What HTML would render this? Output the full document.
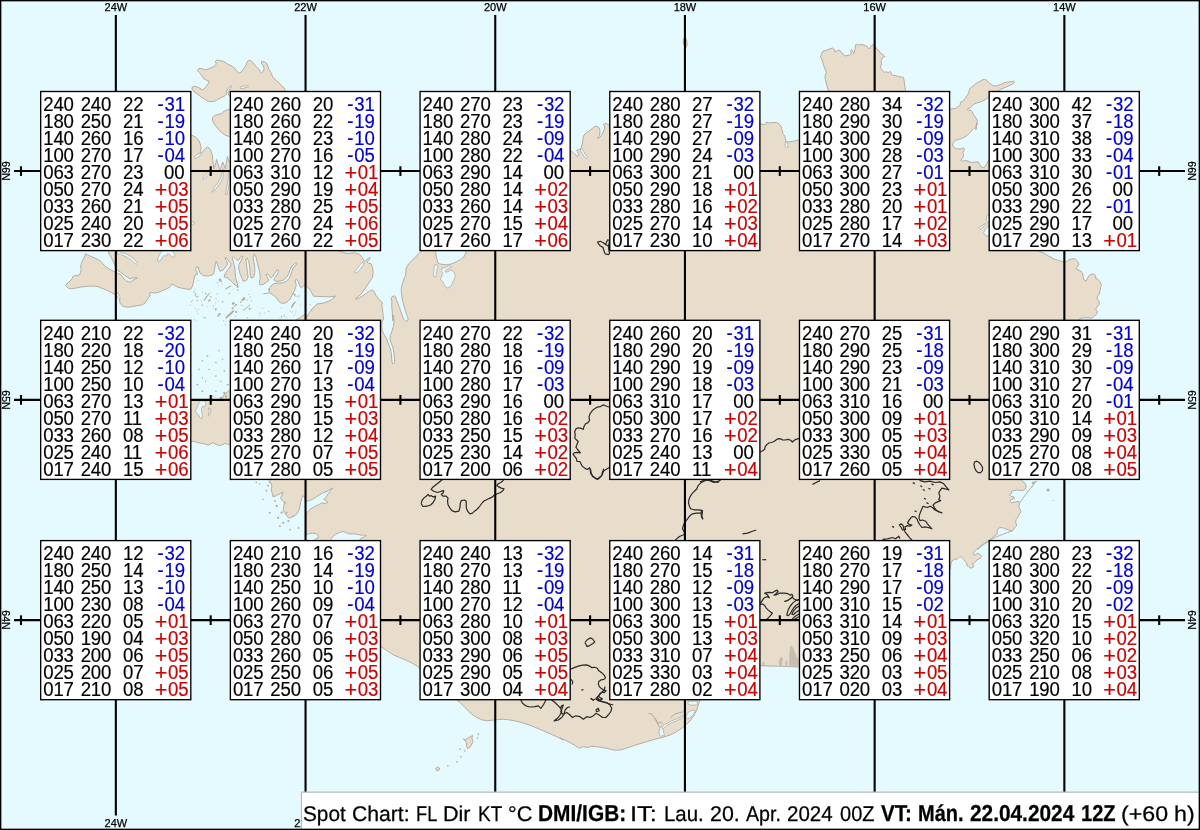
<!DOCTYPE html>
<html><head><meta charset="utf-8"><title>Spot Chart</title>
<style>
html,body{margin:0;padding:0}
body{width:1200px;height:830px;position:relative;overflow:hidden;background:#e5faff;font-family:"Liberation Sans",sans-serif;color:#000}
svg{position:absolute;left:0;top:0}
.b{position:absolute;width:151px;height:160px;font-size:19.3px;line-height:17px;white-space:pre;transform:scaleX(.965);transform-origin:0 0}
.b i{position:absolute;font-style:normal;height:17px;-webkit-text-stroke:0.18px;letter-spacing:-0.16px}
.n{color:#0000cc}.p{color:#c80404}.b i.q{font-size:22.4px;letter-spacing:0;margin-left:-0.6px}
.lb{position:absolute;-webkit-text-stroke:0.25px;font-size:11px;line-height:12px;width:40px;text-align:center;white-space:nowrap}
.rl{position:absolute;-webkit-text-stroke:0.25px;font-size:11px;line-height:12px;width:40px;height:12px;text-align:center;transform:rotate(90deg) scaleX(.96);transform-origin:50% 50%;white-space:nowrap}
#cap{position:absolute;left:302px;top:793px;width:898px;height:37px;background:#fff}
#cap span{position:absolute;top:9.6px;font-size:21.3px;line-height:24px;white-space:pre;transform-origin:0 80%;-webkit-text-stroke:0.25px;text-rendering:geometricPrecision}
#cap span.bd{font-weight:bold;font-size:23px;top:8.4px}
#mb{position:absolute;left:600px;top:400px;width:1px;height:1px;mix-blend-mode:multiply}
</style></head><body>
<svg width="1200" height="830" viewBox="0 0 1200 830">
<g fill="#e8dccb" stroke="#b4ada4" stroke-width="1" stroke-linejoin="round">
<polygon points="65.6,285.6 67.5,283.1 70.0,281.2 71.9,278.8 73.1,276.2 76.2,275.6 79.4,275.0 80.6,272.5 81.2,269.4 80.6,265.6 81.9,261.9 83.8,258.1 85.0,255.6 85.0,253.8 87.8,255.0 91.2,256.5 95.0,258.1 98.8,260.0 101.9,262.5 104.4,265.6 106.9,267.8 110.0,269.4 113.1,271.0 116.2,272.8 118.1,273.5 120.0,274.0 121.9,276.2 123.8,278.8 126.9,281.2 130.0,282.2 132.5,280.6 135.0,279.0 137.2,278.5 136.9,277.5 133.8,277.8 130.0,278.8 126.9,276.9 123.8,274.4 120.6,272.2 118.1,270.6 116.2,268.8 114.8,265.0 113.1,261.2 111.2,257.5 109.4,254.4 108.1,251.2 108.1,247.5 150.0,140.0 189.0,134.5 191.5,135.0 193.5,136.0 196.0,137.5 198.0,139.5 199.5,142.0 200.5,145.0 201.0,148.0 200.5,151.5 200.0,153.5 202.0,152.5 204.5,149.5 207.2,147.0 209.0,148.0 210.5,150.0 211.8,153.0 212.5,157.0 212.8,160.0 213.9,169.0 215.5,164.0 216.6,159.5 218.0,164.0 219.8,170.5 221.5,166.0 222.7,162.0 224.0,165.0 225.5,169.0 226.5,162.0 227.4,156.5 228.5,160.0 230.0,163.0 236.0,163.0 236.0,136.5 230.0,136.5 228.0,136.2 225.0,135.0 221.5,132.5 218.5,129.5 216.0,126.5 214.0,123.5 212.5,120.5 212.5,117.5 214.5,115.5 218.0,114.5 222.0,113.5 223.5,111.5 227.0,110.0 230.0,109.0 236.0,109.0 237.6,100.1 230.1,96.6 228.9,95.7 228.2,92.6 229.5,89.5 231.6,86.3 230.7,85.7 228.2,88.2 226.4,91.4 226.6,94.1 225.1,95.7 221.3,97.6 217.6,99.5 214.4,101.4 211.3,101.6 208.2,101.4 205.1,99.5 201.3,97.0 197.5,94.1 193.8,91.4 191.9,88.8 192.3,87.0 195.0,86.3 198.8,87.6 202.5,89.8 204.4,88.8 206.3,86.3 208.2,83.8 209.4,81.3 206.9,80.3 203.8,78.8 201.9,75.7 199.4,72.6 197.5,70.1 198.8,68.5 201.9,68.5 205.7,70.1 208.2,68.8 211.9,67.5 215.1,65.7 216.3,63.8 215.1,61.5 217.0,60.0 220.7,60.7 223.8,61.5 227.6,64.0 232.0,66.3 235.1,68.8 237.0,71.3 239.1,73.2 241.4,71.9 243.9,68.8 246.2,65.0 247.0,61.9 248.9,60.3 251.4,61.0 253.9,64.0 257.1,67.5 259.8,70.1 260.2,72.3 261.4,73.2 262.9,71.9 264.2,68.8 263.3,65.7 261.4,63.2 261.7,61.3 265.2,62.3 267.1,63.8 268.7,68.8 271.5,73.8 272.7,76.9 275.9,80.1 279.0,82.8 281.5,85.7 284.0,87.6 285.3,90.7 285.9,100.1 338.8,246.2 338.8,251.2 347.5,253.5 355.0,252.8 359.4,254.4 362.5,257.5 364.4,261.9 366.2,260.0 368.8,258.1 370.0,257.5 369.4,259.4 366.9,261.9 368.1,263.1 371.2,263.8 372.5,267.5 373.1,272.5 372.5,277.5 370.0,281.2 367.5,285.0 365.0,288.8 361.9,293.1 358.8,296.2 355.6,298.1 356.2,299.4 360.0,297.5 365.0,294.4 369.4,291.2 372.5,289.8 374.4,291.9 375.6,295.0 378.1,298.1 380.6,301.2 382.5,302.5 381.9,305.0 382.5,310.0 383.1,315.0 383.5,320.0 382.0,321.1 381.7,327.3 382.7,331.9 384.7,335.5 386.8,339.1 388.3,343.7 390.4,348.8 391.4,353.9 391.7,359.1 392.2,363.2 393.4,364.0 394.5,362.6 394.3,358.0 394.0,352.9 392.9,347.8 391.4,343.2 389.9,339.6 390.4,335.5 391.9,331.4 393.4,326.3 394.0,321.1 393.4,315.0 392.8,320.8 392.5,316.0 392.2,311.1 391.7,306.3 391.9,301.5 391.1,298.2 392.2,296.7 394.3,295.8 395.5,297.0 396.4,299.7 397.9,303.3 399.4,307.5 400.9,311.7 402.4,316.0 403.9,319.3 405.7,321.4 407.2,321.1 408.1,319.3 407.5,316.6 406.3,313.6 405.1,309.9 403.9,305.7 402.8,301.5 402.1,297.9 401.5,293.7 401.2,290.1 401.8,285.8 403.0,281.6 404.5,277.4 405.7,275.0 406.2,268.1 408.8,263.8 412.5,260.0 416.2,256.2 420.0,252.5 422.5,250.0 435.6,247.5 435.6,251.2 436.2,256.2 437.5,261.2 438.1,263.5 441.9,264.4 446.2,264.8 451.2,264.0 456.2,261.9 460.6,259.4 463.8,256.9 465.6,253.8 466.0,251.2 466.2,247.5 567.5,149.6 570.9,150.9 573.0,152.6 575.1,154.7 577.6,156.4 578.5,154.3 577.6,151.7 576.4,150.5 578.5,149.5 580.6,149.0 581.4,147.1 582.3,143.7 582.9,139.5 583.5,136.1 584.8,134.0 587.8,131.9 591.1,129.4 594.1,126.9 596.6,126.0 598.7,127.3 599.7,129.0 600.0,131.9 599.6,135.3 597.5,138.2 598.7,138.2 601.3,135.7 602.9,132.8 604.2,129.8 604.8,126.9 603.8,125.2 603.4,124.3 605.5,123.5 607.6,123.9 608.8,125.2 612.2,125.6 757.9,122.9 761.3,123.9 763.7,124.9 765.6,123.9 766.6,122.0 769.5,122.9 773.3,122.5 776.7,122.5 779.1,123.9 781.0,126.3 782.0,129.7 782.9,133.5 784.9,136.4 785.8,139.3 785.6,141.7 788.7,142.0 793.5,141.2 797.4,140.3 803.2,139.3 829.0,97.0 828.5,91.0 827.0,86.0 826.0,82.0 825.0,78.0 825.5,74.0 826.5,72.5 825.0,69.0 823.5,65.0 822.5,61.0 820.5,57.5 821.5,54.0 823.0,51.0 826.0,50.5 829.0,49.0 832.5,48.0 834.5,49.5 835.0,52.0 837.0,51.0 839.0,50.0 841.0,51.5 843.0,54.0 844.5,56.0 847.0,55.5 849.5,55.0 851.5,54.0 850.5,51.5 851.5,49.5 853.0,51.5 853.5,53.5 854.5,52.0 855.0,48.5 855.5,45.0 856.5,44.0 858.0,45.0 861.0,44.5 864.0,45.0 866.0,46.0 868.0,47.5 869.5,49.0 871.0,46.0 873.0,44.5 875.0,45.5 876.5,49.0 878.5,50.0 880.0,52.5 882.0,54.0 884.0,55.5 885.0,56.5 883.0,57.5 881.5,59.5 881.0,62.0 881.8,64.0 880.5,66.0 881.0,68.5 882.0,70.0 883.5,71.5 885.0,72.5 886.5,71.5 888.0,73.0 889.5,71.5 891.0,72.5 891.5,74.0 893.0,75.5 895.5,75.5 898.0,76.5 901.0,77.0 903.5,77.5 904.0,80.0 904.5,84.0 905.0,88.0 905.8,91.0 906.0,97.0 946.7,109.7 950.5,109.3 952.6,108.7 955.1,108.5 957.6,107.2 959.8,105.5 960.6,103.8 960.0,102.6 961.9,101.7 964.0,100.1 966.1,97.1 967.8,94.6 969.0,91.6 969.5,89.1 971.1,87.4 973.7,85.3 975.8,83.6 978.3,82.3 980.4,81.1 982.5,79.8 984.6,79.4 986.7,80.2 988.4,82.3 990.5,84.0 992.2,85.3 994.7,86.0 997.7,85.7 1000.6,84.5 1004.0,82.9 1007.4,82.1 1010.8,81.8 1013.3,81.2 1014.6,81.9 1013.7,83.2 1011.6,84.5 1009.1,85.7 1006.1,87.0 1003.2,88.2 1000.6,89.3 999.0,90.4 997.7,91.2 995.6,95.4 992.2,97.1 988.8,97.1 986.3,98.8 982.9,100.9 979.6,102.2 976.2,103.2 973.7,104.3 971.6,106.4 969.9,108.1 967.8,108.5 967.3,109.6 969.0,110.4 970.7,110.2 972.0,111.4 973.2,114.0 974.9,116.5 976.6,119.0 977.5,120.7 976.6,123.2 976.2,126.6 975.8,130.0 977.3,122.9 975.8,126.7 972.9,129.6 970.0,132.5 967.2,135.4 963.3,137.8 959.5,139.3 955.6,140.2 953.7,142.2 952.2,145.0 954.2,147.5 956.6,148.9 960.4,148.9 963.8,147.9 964.3,149.9 962.8,152.8 963.8,155.6 962.3,158.5 960.9,160.5 962.8,161.2 966.2,160.5 969.1,161.6 971.0,162.4 974.9,162.2 978.2,161.9 979.7,164.3 981.1,166.7 983.1,167.7 985.5,166.2 986.9,163.8 987.9,161.4 988.8,160.0 993.2,158.5 1038.8,246.2 1038.8,251.2 1043.8,253.1 1048.8,256.2 1053.8,258.8 1058.8,260.6 1063.1,261.9 1065.6,262.5 1067.5,260.6 1070.0,259.4 1073.1,258.5 1075.6,259.4 1077.5,261.2 1078.8,264.4 1077.5,266.9 1075.6,268.8 1078.1,270.0 1081.2,271.2 1082.8,273.8 1083.1,276.9 1084.0,280.0 1086.2,281.2 1087.5,278.1 1089.0,275.6 1091.2,274.4 1093.8,274.0 1095.6,275.6 1095.6,278.1 1098.1,279.4 1100.0,281.9 1101.5,284.4 1100.6,287.5 1100.0,290.6 1099.4,293.8 1097.5,296.2 1097.2,298.8 1099.0,301.2 1099.4,304.4 1096.9,306.9 1095.6,309.4 1097.5,311.2 1096.9,313.8 1094.4,316.2 1091.9,318.1 1087.5,317.8 1083.8,317.8 1080.6,318.1 1079.4,320.0 1078.8,325.0 1021.2,475.0 1021.2,480.0 1023.8,481.9 1025.6,484.4 1026.2,487.5 1024.4,490.0 1021.2,490.6 1017.5,490.0 1013.8,490.6 1011.2,491.2 1011.9,493.1 1009.4,494.4 1010.6,496.2 1013.8,496.9 1014.4,498.8 1011.2,499.4 1010.0,501.2 1011.9,502.8 1015.6,501.9 1018.8,501.2 1019.4,503.8 1018.8,506.2 1020.0,509.4 1021.2,511.9 1019.4,513.8 1018.1,516.9 1016.2,519.4 1015.6,522.5 1016.9,525.0 1015.0,527.5 1013.1,530.0 1011.9,531.2 1008.1,529.8 1003.8,528.1 1000.0,527.5 998.1,528.8 996.9,531.9 997.5,533.8 995.0,535.6 992.5,537.5 990.6,540.0 989.2,540.1 986.3,542.1 983.4,544.0 980.5,545.9 978.6,547.4 976.6,549.3 975.2,550.7 973.8,552.7 973.3,554.6 974.7,555.1 976.6,554.1 978.1,553.1 979.5,554.1 981.0,555.6 981.5,557.0 980.0,558.4 978.1,559.4 976.2,560.4 975.7,561.8 973.8,563.3 972.3,563.8 973.8,565.7 973.3,567.1 971.3,568.1 969.4,567.6 968.0,566.2 966.5,565.2 967.0,563.8 965.6,561.8 963.6,559.4 961.7,557.5 959.8,556.5 958.3,558.0 956.9,559.4 954.9,558.9 953.5,559.9 952.1,560.9 951.1,563.3 950.6,566.6 950.1,569.5 945.8,570.5 805.0,667.2 799.0,667.0 790.0,666.6 780.0,666.2 770.0,666.0 761.0,665.8 755.0,665.5 700.8,695.0 700.0,700.0 698.3,705.0 696.7,710.0 694.2,715.0 690.8,720.0 686.7,724.2 681.7,728.3 676.7,731.7 670.8,734.7 665.0,736.7 660.0,738.0 653.3,739.7 646.7,741.7 640.0,743.7 633.3,745.8 626.7,748.0 621.7,749.7 616.7,750.3 611.7,749.7 606.7,748.3 601.7,747.5 596.7,746.7 591.7,746.3 587.5,747.5 583.3,746.7 579.2,748.3 575.8,745.8 570.0,742.5 565.0,740.0 560.0,738.0 563.3,740.0 556.7,736.7 550.0,733.7 543.3,730.8 536.7,728.0 530.0,725.3 523.3,723.0 516.7,721.3 510.0,720.0 503.3,719.2 496.7,719.7 491.7,720.3 486.7,720.8 481.7,719.7 476.7,717.5 471.7,714.2 467.5,710.0 463.3,705.8 460.0,702.5 456.7,700.0 455.0,695.0 425.0,671.0 420.0,669.0 417.0,666.0 411.9,663.0 405.7,660.0 399.6,657.5 393.4,654.9 387.3,650.8 381.0,646.7 375.0,643.0 359.4,545.0 358.8,540.6 359.4,540.0 361.2,538.1 364.4,536.9 366.5,535.6 364.4,535.0 361.2,535.2 357.5,534.4 353.8,533.8 349.4,534.0 346.2,532.5 343.1,531.5 339.4,532.5 335.6,534.4 332.5,536.9 330.6,540.0 330.6,545.0 313.8,545.0 313.8,540.6 315.6,538.8 318.1,538.1 318.5,535.6 316.2,533.8 312.5,533.1 308.8,533.8 306.2,535.0 305.8,532.5 305.8,526.2 306.0,520.0 306.2,514.4 307.5,511.9 310.0,509.4 313.1,507.5 316.2,505.6 319.4,504.4 321.9,502.8 325.0,503.5 327.5,502.5 326.9,500.6 323.8,499.4 326.2,496.9 328.1,493.8 330.6,490.6 332.5,488.1 330.0,489.4 327.5,491.2 323.8,492.5 320.0,494.4 316.2,496.9 312.5,499.4 308.8,500.6 305.6,501.2 304.4,496.9 303.1,495.6 301.9,498.1 300.6,501.9 300.0,506.2 298.8,510.6 296.9,513.8 293.8,516.2 290.0,518.1 288.1,517.5 286.2,515.0 284.4,512.5 283.1,509.4 283.8,506.2 284.4,503.1 282.5,500.6 280.6,498.1 281.9,495.0 283.1,491.9 280.0,493.8 276.2,495.6 273.8,496.9 272.5,493.8 271.2,490.0 271.9,486.2 270.6,482.5 268.8,480.0 268.1,475.0 233.8,444.3 230.0,444.3 227.8,444.3 225.7,443.3 223.0,444.3 220.2,445.4 217.5,445.1 214.8,443.8 212.1,442.7 210.5,444.3 207.8,445.1 204.5,443.8 201.3,443.3 198.0,442.7 194.8,441.6 192.0,441.1 187.2,440.6 110.0,430.0 110.0,400.0 187.0,399.6 191.0,399.6 200.0,399.8 210.0,399.6 221.0,399.5 221.9,398.0 223.5,395.3 226.8,392.5 230.0,389.8 233.8,388.8 295.0,325.0 296.2,319.8 299.8,317.8 302.2,316.0 304.2,314.8 306.9,316.9 309.4,312.5 313.1,308.1 316.9,304.0 323.8,303.1 331.2,300.0 335.6,296.2 330.0,296.9 320.0,296.5 313.5,296.2 310.6,290.6 306.9,286.2 304.8,285.0 303.1,286.2 301.2,288.1 299.4,285.0 298.1,281.2 296.5,279.4 295.0,280.0 295.6,282.5 296.2,285.6 295.0,289.4 293.1,293.1 291.2,296.9 289.4,300.0 286.9,302.2 283.8,303.5 280.6,302.8 278.1,300.6 276.2,297.5 273.1,295.0 270.0,293.1 268.8,290.0 270.0,287.5 271.9,285.0 274.4,283.5 278.1,283.1 282.5,282.8 286.2,281.5 288.8,278.8 290.6,275.0 291.9,271.2 293.1,268.1 295.0,266.0 296.9,263.8 296.2,262.5 294.4,263.8 291.9,266.2 290.2,269.4 288.8,273.1 286.9,276.9 283.8,279.8 280.0,281.0 276.2,281.5 273.8,280.0 275.0,277.5 276.9,275.0 278.5,271.9 278.1,269.8 276.9,270.0 275.0,273.1 273.1,276.2 271.2,278.1 269.0,275.6 266.9,273.8 266.0,275.0 267.5,277.5 268.8,280.6 266.2,282.5 263.1,284.4 260.0,285.0 259.4,282.5 260.2,278.8 260.0,273.8 258.8,268.8 257.5,263.8 256.5,258.8 255.2,255.0 253.8,254.0 253.2,257.5 254.0,262.5 254.8,267.5 254.8,272.5 253.8,276.9 251.2,278.1 250.2,275.0 250.0,270.0 249.4,265.0 248.5,260.6 247.2,258.1 246.0,258.8 246.2,262.5 246.9,267.5 247.5,272.5 248.1,277.5 246.2,280.6 243.1,281.2 241.9,278.1 240.0,273.8 238.8,268.8 239.0,264.4 241.0,260.6 242.8,256.9 242.2,255.6 240.2,257.5 238.1,260.6 235.6,258.8 233.1,256.5 232.2,257.5 233.5,262.5 234.8,267.5 235.2,272.5 235.6,277.5 236.9,282.5 238.1,286.2 235.0,285.0 232.5,282.5 230.0,280.0 226.9,277.5 224.0,276.9 225.0,273.8 227.5,270.0 230.0,266.9 231.2,263.8 228.8,261.2 226.5,258.1 225.0,257.5 226.2,260.6 227.8,263.8 225.6,266.9 223.1,270.0 220.0,271.2 218.8,268.8 217.5,264.4 216.2,261.2 215.0,266.2 214.4,270.6 213.1,274.4 210.0,275.6 206.2,276.2 202.5,275.0 200.0,273.1 198.8,269.4 198.1,266.9 196.2,267.5 195.6,270.0 196.9,271.9 197.5,274.4 195.0,275.0 192.5,286.2 190.6,289.4 186.2,289.0 181.2,288.1 176.9,286.9 173.8,284.8 171.9,283.8 170.0,286.9 166.9,288.8 162.5,290.6 158.8,292.2 155.0,293.1 151.9,292.5 149.4,293.1 150.2,295.0 148.8,297.5 146.9,300.0 145.0,303.1 142.5,304.8 137.5,305.6 132.5,306.5 128.8,307.2 125.0,306.9 121.9,305.6 120.0,303.1 119.4,298.8 117.5,295.0 115.0,294.4 111.2,292.5 107.5,290.6 103.1,288.8 98.8,286.9 95.0,286.2 90.0,286.0 85.0,286.5 80.0,287.2 75.6,288.1 71.2,288.8 68.1,288.1"/>
<polygon points="683.5,39.0 685.0,37.5 686.5,40.0 687.3,44.0 686.5,47.0 684.5,46.0 683.2,43.0"/>
<polygon points="463.3,739.2 465.8,739.7 468.3,737.5 470.8,736.7 472.5,735.3 472.0,738.3 473.0,741.7 471.3,745.0 469.7,747.5 467.5,748.7 466.7,745.8 466.3,742.5 465.3,740.8"/>
<polygon points="435.8,768.3 437.5,767.0 439.3,768.0 439.5,769.7 438.0,770.8 436.2,770.2"/>
</g>
<g fill="#e5faff" stroke="#b4ada4" stroke-width="0.8" stroke-linejoin="round">
<polygon points="202.7,178.5 205.9,174.1 210.3,170.9 210.9,172.2 207.2,175.9 204.0,179.4"/>
<polygon points="212.2,191.8 214.7,186.7 218.2,182.3 221.1,176.6 222.6,169.0 223.6,169.0 223.0,177.2 219.8,183.5 216.0,188.6 213.1,192.4"/>
<polygon points="225.5,194.3 226.5,188.0 227.8,181.6 228.7,170.3 229.7,170.3 229.3,182.9 228.0,190.5 226.8,194.9"/>
<polygon points="194.5,156.3 197.0,154.4 200.8,153.2 202.1,154.4 198.9,156.3 196.4,158.2 195.1,158.9"/>
<polygon points="191.3,221.5 193.9,222.2 194.5,223.4 192.6,224.7 191.3,224.7"/>
<polygon points="117.5,250.6 121.2,252.5 126.2,253.8 131.2,256.9 135.0,260.0 137.5,263.1 136.2,264.4 133.1,261.9 129.4,258.8 125.0,256.2 120.6,254.4 117.5,253.8"/>
<polygon points="157.5,261.2 158.1,257.5 160.0,253.8 162.5,250.6 172.5,250.6 175.0,255.6 173.8,257.5 171.2,256.2 169.4,254.4 167.5,253.8 166.2,256.2 163.8,255.6 161.9,258.1 160.0,261.2"/>
<polygon points="115.6,293.1 118.1,293.1 119.8,296.2 120.0,300.0 118.5,298.8 116.9,295.6"/>
<polygon points="240.1,87.0 243.3,86.1 247.7,85.7 248.3,87.0 245.2,87.8 242.0,88.6 240.1,88.2"/>
<polygon points="361.9,262.5 364.4,263.1 363.1,265.6 360.6,268.8 358.1,271.9 355.6,273.1 354.8,271.5 356.9,268.8 359.4,265.6"/>
<polygon points="434.4,265.0 436.9,264.8 438.1,266.9 436.9,270.0 436.5,273.8 436.2,276.2 434.8,277.2 433.5,275.6 433.8,271.9 434.1,268.1"/>
<polygon points="441.9,268.1 445.6,267.5 447.8,266.2 450.6,265.6 451.2,267.5 448.8,268.5 446.2,270.0 445.0,271.9 447.5,271.9 450.6,270.0 453.1,271.2 455.0,273.8 455.2,276.9 453.8,280.0 452.2,283.8 450.0,286.9 447.8,288.1 445.6,286.9 444.0,284.4 442.8,281.9 440.6,280.0 440.6,277.8 441.9,276.2 442.5,273.1 441.5,270.6"/>
<polygon points="580.2,149.6 582.3,148.8 583.7,151.3 584.8,153.8 587.1,156.0 587.6,157.6 586.1,158.5 584.4,156.8 582.5,154.3 581.2,152.0"/>
<polygon points="785.3,142.2 787.3,142.0 787.8,145.1 788.2,147.0 786.3,147.5 785.1,146.1"/>
<polygon points="199.6,401.0 206.1,401.0 205.6,404.2 204.5,406.9 202.4,406.4 201.3,408.6 201.8,412.4 202.4,416.1 201.8,418.9 200.2,417.8 198.6,415.1 196.9,412.9 195.3,411.3 196.4,408.6 198.0,405.3"/>
<polygon points="208.3,408.0 210.5,408.6 211.0,411.3 209.9,414.0 208.9,416.1 208.0,415.6 209.1,412.4 208.9,409.6"/>
<polygon points="660.0,727.5 662.2,726.4 663.3,730.8 664.4,735.6 660.0,736.2 659.0,731.8"/>
<polygon points="687.7,701.5 697.4,701.0 696.9,704.8 690.9,705.3 688.2,704.2"/>
<polygon points="688.2,712.3 692.0,710.2 695.3,710.7 693.6,714.5 689.8,717.8 686.6,718.8 686.0,716.7"/>
<polygon points="661.7,727.5 664.9,724.3 670.3,721.5 675.8,719.4 681.2,716.7 683.9,715.0 683.9,716.7 681.7,718.3 676.3,721.0 670.9,723.2 666.0,725.9 663.3,728.6"/>
<polygon points="990.0,225.3 986.3,227.7 983.6,232.5 985.7,236.1 990.0,235.5"/>
<polygon points="979.1,227.4 985.4,223.5 986.3,224.1 980.3,229.5"/>
<polygon points="990.0,213.9 986.6,216.3 986.3,220.5 987.5,222.9 990.0,221.7"/>
</g>
<g fill="none" stroke="#b4ada4" stroke-width="1.0" stroke-linecap="round">
<polyline points="1036.2,481.2 1033.1,485.0 1030.0,488.8 1026.2,493.8 1022.5,498.8 1020.0,502.5"/>
<polyline points="1011.9,531.2 1007.5,532.5 1002.5,534.4 996.2,536.9 990.6,540.0 983.8,544.4 977.5,549.4"/>
<polyline points="649.2,713.4 651.9,714.0 653.5,716.7 655.2,719.4 656.8,722.1 658.4,725.3 660.0,727.5"/>
<polyline points="655.2,718.3 657.9,723.2 661.1,722.1 662.8,724.3"/>
<polyline points="670.9,717.2 674.7,714.0 679.0,712.9 683.3,711.8"/>
</g>
<g fill="#e8dccb" stroke="#b4ada4" stroke-width="0.6">
<circle cx="478.3" cy="734.2" r="0.8"/>
<circle cx="477.5" cy="738.0" r="0.6"/>
<circle cx="460.0" cy="749.2" r="0.7"/>
<circle cx="464.7" cy="750.8" r="0.7"/>
<circle cx="460.8" cy="756.7" r="0.7"/>
<circle cx="457.0" cy="762.0" r="0.7"/>
<circle cx="447.8" cy="765.8" r="0.6"/>
</g>
<g fill="#a89f94" fill-opacity="0.5" stroke="none">
<polygon points="789.2,665.8 789.4,654.3 790.2,646.1 791.6,645.8 793.5,648.5 795.0,652.3 796.4,656.2 798.4,659.1 798.6,665.8"/>
<polygon points="779.1,665.8 778.8,660.5 780.5,657.6 782.5,656.9 782.9,660.0 782.0,663.9 781.3,665.8"/>
<polygon points="785.3,665.8 785.6,661.0 786.8,660.3 787.5,662.0 787.0,665.8"/>
<polygon points="762.2,665.8 762.7,662.0 763.9,661.5 764.6,663.9 764.6,665.8"/>
</g>
<g fill="#b7ad9f" stroke="none">
<circle cx="220.0" cy="280.0" r="1.38"/>
<circle cx="221.3" cy="281.3" r="0.92"/>
<circle cx="217.3" cy="282.7" r="0.61"/>
<circle cx="218.7" cy="285.3" r="0.50"/>
<circle cx="222.3" cy="283.7" r="0.50"/>
<circle cx="237.7" cy="287.0" r="1.07"/>
<circle cx="233.3" cy="289.3" r="0.50"/>
<circle cx="210.3" cy="293.0" r="0.50"/>
<circle cx="209.7" cy="300.3" r="1.07"/>
<circle cx="208.7" cy="301.0" r="0.77"/>
<circle cx="216.0" cy="298.7" r="0.61"/>
<circle cx="218.0" cy="301.0" r="0.50"/>
<circle cx="217.3" cy="294.0" r="0.61"/>
<circle cx="215.7" cy="302.7" r="0.50"/>
<circle cx="213.7" cy="305.7" r="0.50"/>
<circle cx="213.3" cy="308.3" r="0.50"/>
<circle cx="215.7" cy="309.7" r="0.84"/>
<circle cx="207.3" cy="306.7" r="0.50"/>
<circle cx="219.0" cy="315.0" r="1.07"/>
<circle cx="220.3" cy="313.7" r="0.77"/>
<circle cx="217.7" cy="316.3" r="0.77"/>
<circle cx="195.3" cy="308.3" r="0.50"/>
<circle cx="198.7" cy="309.3" r="0.50"/>
<circle cx="196.7" cy="311.0" r="0.50"/>
<circle cx="197.7" cy="313.7" r="0.50"/>
<circle cx="233.3" cy="303.3" r="1.23"/>
<circle cx="236.0" cy="304.7" r="1.00"/>
<circle cx="232.7" cy="308.3" r="1.15"/>
<circle cx="234.7" cy="306.3" r="0.77"/>
<circle cx="244.0" cy="298.7" r="1.38"/>
<circle cx="242.3" cy="299.7" r="1.07"/>
<circle cx="240.7" cy="302.0" r="0.84"/>
<circle cx="242.0" cy="305.3" r="0.61"/>
<circle cx="248.7" cy="294.3" r="0.50"/>
<circle cx="250.3" cy="297.0" r="0.61"/>
<circle cx="251.3" cy="300.7" r="0.50"/>
<circle cx="247.3" cy="300.3" r="0.50"/>
<circle cx="260.0" cy="313.3" r="0.69"/>
<circle cx="259.3" cy="316.0" r="0.50"/>
<circle cx="263.0" cy="308.3" r="0.50"/>
<circle cx="264.3" cy="313.0" r="0.50"/>
<circle cx="268.7" cy="311.3" r="0.50"/>
<circle cx="251.0" cy="308.7" r="0.50"/>
<circle cx="235.3" cy="316.3" r="0.50"/>
<circle cx="223.7" cy="320.7" r="0.50"/>
<circle cx="225.3" cy="324.3" r="0.50"/>
<circle cx="247.7" cy="317.7" r="0.61"/>
<circle cx="201.3" cy="300.7" r="0.50"/>
<circle cx="190.3" cy="305.3" r="0.50"/>
<circle cx="195.0" cy="289.3" r="0.50"/>
<circle cx="198.0" cy="280.7" r="0.50"/>
<circle cx="202.7" cy="291.7" r="0.50"/>
<circle cx="269.3" cy="289.3" r="1.07"/>
<circle cx="194.7" cy="319.7" r="0.50"/>
<circle cx="196.7" cy="321.0" r="0.50"/>
<circle cx="294.7" cy="294.7" r="1.07"/>
<circle cx="296.0" cy="296.3" r="0.77"/>
<circle cx="293.7" cy="293.3" r="0.61"/>
<circle cx="281.3" cy="307.7" r="0.50"/>
<circle cx="268.7" cy="311.3" r="0.50"/>
<circle cx="300.3" cy="305.0" r="0.50"/>
<circle cx="296.0" cy="310.7" r="0.50"/>
<circle cx="295.7" cy="313.3" r="0.50"/>
<circle cx="294.0" cy="315.3" r="0.50"/>
<circle cx="310.3" cy="304.7" r="0.50"/>
<circle cx="311.7" cy="310.0" r="0.69"/>
<circle cx="290.3" cy="311.0" r="0.61"/>
<circle cx="292.3" cy="312.0" r="0.54"/>
<circle cx="281.7" cy="316.7" r="0.77"/>
<circle cx="284.3" cy="316.0" r="0.77"/>
<circle cx="286.3" cy="317.7" r="0.50"/>
<circle cx="280.0" cy="318.3" r="0.54"/>
<circle cx="1048.1" cy="490.0" r="1.58"/>
<circle cx="1033.1" cy="483.1" r="1.29"/>
<circle cx="1053.1" cy="500.6" r="0.57"/>
<circle cx="1035.0" cy="481.9" r="0.86"/>
<circle cx="1031.9" cy="486.9" r="0.72"/>
<circle cx="202.4" cy="360.9" r="0.78"/>
<circle cx="207.4" cy="355.9" r="0.97"/>
<circle cx="215.9" cy="362.6" r="0.78"/>
<circle cx="219.2" cy="350.8" r="0.78"/>
<circle cx="202.4" cy="377.8" r="0.78"/>
<circle cx="197.3" cy="384.6" r="0.97"/>
<circle cx="205.7" cy="381.2" r="0.78"/>
<circle cx="215.9" cy="376.1" r="0.78"/>
<circle cx="224.3" cy="371.1" r="0.78"/>
<circle cx="220.9" cy="381.2" r="0.78"/>
<circle cx="202.4" cy="391.3" r="0.97"/>
<circle cx="215.9" cy="391.3" r="0.78"/>
<circle cx="224.3" cy="393.0" r="1.16"/>
<circle cx="222.6" cy="359.3" r="0.78"/>
<circle cx="199.0" cy="369.4" r="0.78"/>
<circle cx="209.1" cy="369.4" r="0.70"/>
<circle cx="227.7" cy="384.6" r="0.97"/>
<circle cx="212.5" cy="396.4" r="0.97"/>
<circle cx="226.0" cy="396.4" r="1.16"/>
<circle cx="220.9" cy="398.0" r="1.16"/>
<circle cx="197.3" cy="300.2" r="0.78"/>
<circle cx="202.4" cy="305.3" r="0.78"/>
<circle cx="210.8" cy="296.9" r="0.78"/>
<circle cx="215.9" cy="308.7" r="0.78"/>
<circle cx="222.6" cy="301.9" r="0.78"/>
<circle cx="232.7" cy="303.6" r="0.97"/>
<circle cx="236.1" cy="312.0" r="0.97"/>
<circle cx="219.2" cy="313.7" r="0.78"/>
<circle cx="205.7" cy="293.5" r="0.78"/>
<circle cx="193.9" cy="291.8" r="0.78"/>
<circle cx="229.3" cy="293.5" r="0.78"/>
<circle cx="242.8" cy="300.2" r="0.78"/>
<circle cx="249.6" cy="308.7" r="0.97"/>
<circle cx="237.8" cy="290.1" r="0.78"/>
<circle cx="269.8" cy="482.4" r="0.97"/>
<circle cx="266.4" cy="490.8" r="0.97"/>
<circle cx="259.7" cy="484.0" r="0.78"/>
<circle cx="273.2" cy="495.9" r="0.97"/>
<circle cx="276.6" cy="506.0" r="1.16"/>
<circle cx="269.8" cy="512.7" r="0.97"/>
<circle cx="278.2" cy="517.8" r="1.16"/>
<circle cx="286.7" cy="512.7" r="0.97"/>
<circle cx="283.3" cy="522.8" r="1.16"/>
<circle cx="290.1" cy="529.6" r="0.97"/>
<circle cx="293.4" cy="516.1" r="0.97"/>
<circle cx="279.9" cy="526.2" r="0.97"/>
<circle cx="298.5" cy="527.9" r="0.97"/>
<circle cx="263.1" cy="499.2" r="0.78"/>
<circle cx="285.0" cy="502.6" r="0.97"/>
<circle cx="281.6" cy="512.7" r="1.16"/>
<circle cx="288.4" cy="521.1" r="1.16"/>
<circle cx="274.9" cy="500.9" r="0.97"/>
<circle cx="268.1" cy="485.7" r="0.97"/>
<circle cx="256.3" cy="482.4" r="0.78"/>
</g>
<g fill="none" stroke="#b7ad9f" stroke-linecap="round">
<polyline stroke-width="1.1" points="225.7,289.0 228.0,287.5 230.7,286.0"/>
<polyline stroke-width="1.2" points="204.3,300.0 206.3,297.3 208.7,294.0"/>
<polyline stroke-width="1.0" points="195.7,293.3 195.0,295.3 196.7,297.3 198.3,296.3"/>
<polyline stroke-width="0.9" points="203.7,317.3 205.7,318.3"/>
<polyline stroke-width="1.8" points="226.3,317.7 229.0,315.0 231.3,313.0 233.3,311.3"/>
<polyline stroke-width="1.0" points="243.3,310.3 246.7,307.7 249.7,305.0"/>
<polyline stroke-width="1.0" points="263.7,293.7 266.7,293.3 269.3,293.0"/>
<polyline stroke-width="0.8" points="191.0,302.0 193.0,300.0"/>
<polyline stroke-width="1.5" points="291.7,307.0 293.3,304.3 295.0,302.3"/>
<polyline stroke-width="0.8" points="298.3,297.3 299.3,295.3"/>
</g>
<g fill="none" stroke="#2a2a2a" stroke-width="1.2" stroke-linejoin="round">
<polyline points="597.2,242.0 600.4,241.3 603.3,242.7 605.5,244.5 606.6,242.0 607.7,239.8 609.5,240.5 609.1,243.8 608.4,246.0 608.7,248.9 609.5,253.6 608.4,254.6 605.1,253.9 604.0,251.0 603.0,247.4 600.4,246.0 598.6,243.8 597.2,242.0"/>
<polyline points="605.5,244.5 608.4,246.0"/>
<polyline points="614.2,408.3 609.6,407.2 606.2,406.0 603.3,404.9 600.5,406.6 597.0,407.2 594.2,408.9 591.9,411.2 590.2,413.5 589.0,416.9 589.6,420.3 587.9,422.6 585.6,423.8 583.9,426.6 583.3,429.5 581.0,428.3 578.2,427.8 575.9,428.9 574.7,431.8 575.3,435.2 574.7,438.1 576.4,439.8 578.2,441.5 577.0,444.3 575.9,447.2 577.6,449.5 580.4,452.9 577.0,452.4 574.2,452.9 573.0,454.1 574.7,456.4 576.4,458.6 577.0,461.5 579.9,461.5 581.0,463.8 582.2,466.1 585.0,468.4 587.3,469.5 589.6,467.8 590.7,470.1 591.3,473.5 593.0,476.4 595.3,478.1 597.6,479.0 599.3,477.5 601.6,475.8 602.8,473.0 603.9,470.7 606.8,468.9 609.6,467.2 614.2,465.5"/>
<polyline points="443.8,477.5 441.9,480.0 438.8,482.5 435.6,485.0 432.5,487.5 431.2,489.4 433.8,491.2 437.5,492.5 441.2,491.2 443.8,490.6 443.1,493.1 441.2,494.4 443.1,496.2 446.2,496.2 448.1,498.1 447.5,501.2 448.1,505.0 450.0,508.1 451.9,510.6 455.0,511.9 458.8,511.2 460.0,507.5 460.2,503.8 461.2,500.6 464.4,500.0 466.2,501.2 466.2,505.0 466.5,508.8 468.1,511.9 470.0,513.8 472.5,513.1 474.4,511.2 476.2,510.0 478.8,507.5 480.6,505.0 482.5,502.5 484.4,500.6 486.2,500.0 488.1,499.0 490.0,498.1 492.5,496.9 494.4,495.0 497.5,493.8 500.6,492.5 503.1,490.6 504.0,488.8 501.2,488.1 498.8,486.9 496.9,485.6 498.1,483.8 500.6,482.5 502.5,481.2 504.4,478.8"/>
<polyline points="421.2,503.8 421.9,500.6 423.8,498.1 426.2,496.2 428.1,494.4 429.4,496.2 431.2,495.6 433.1,496.9 435.6,496.2 435.0,499.4 433.1,502.5 430.6,505.0 426.9,506.2 423.1,506.5 421.2,503.8"/>
<polyline points="718.8,482.5 715.0,481.9 711.2,480.6 707.5,480.0 703.8,481.2 700.6,483.1 698.1,485.6 696.9,488.8 694.4,491.2 691.9,493.8 690.0,496.9 688.8,500.0 688.5,503.1 689.4,506.2 690.6,508.8 693.8,509.8 697.5,509.8 700.6,510.2 702.5,510.6 701.9,512.5 700.0,513.1 696.2,513.1 692.5,513.8 690.0,515.6 688.1,518.1 686.2,520.6 684.4,523.1 683.1,526.2 682.5,528.8 683.8,531.2 685.0,533.8 683.1,535.0 680.0,536.2 677.5,538.1 675.6,539.8 673.8,542.5"/>
<polyline points="700.6,513.1 701.9,515.6 702.5,518.8"/>
<polyline points="590.0,468.8 590.6,473.1 592.5,476.2 595.0,478.1 597.5,479.4 600.0,477.5 601.9,475.0 602.5,471.9 603.8,468.8"/>
<polyline points="700.0,481.9 705.0,480.0 710.0,480.6 713.8,482.5 718.8,481.2 721.9,478.8"/>
<polyline points="742.5,533.8 747.5,533.1 752.5,531.2 756.2,530.0"/>
<polyline points="812.5,484.4 816.2,482.5 820.0,480.6"/>
<polyline points="700.6,510.0 702.5,513.1 701.2,516.2 703.1,519.4"/>
<polyline points="758.1,452.8 760.6,451.7 762.7,450.7 764.7,449.2 765.2,446.6 766.8,444.6 768.8,443.0 771.4,442.5 774.0,441.5 776.0,440.0 778.1,438.7 780.6,438.9 782.7,440.0 785.2,440.0 787.8,439.4 790.3,440.0 792.4,442.0 793.9,440.5 796.0,439.4 798.5,438.7 802.1,438.4"/>
<polyline points="920.0,477.5 920.0,480.6 925.0,481.9 930.0,481.2 935.0,482.5 940.0,481.9 943.8,483.8 946.2,486.9 948.8,490.0 945.0,488.8 941.9,488.1 940.0,490.6 938.8,493.1 940.0,496.2 938.8,499.4 940.6,500.6 937.5,501.9 935.0,503.1 933.1,505.0 934.4,507.5 936.2,510.0 939.4,511.9 941.9,512.8 938.8,511.9 935.0,510.0 932.5,507.5 930.0,506.2 927.5,507.5 925.0,506.9 923.1,506.2 921.9,508.8 920.6,511.9 919.4,515.0 919.0,518.1 920.0,520.6 922.5,520.0 925.6,521.2 927.5,523.8 929.4,526.2 931.9,528.8 928.1,527.5 925.0,526.9 921.9,527.5 920.0,525.0 918.1,521.9 916.9,518.8 915.0,516.9 912.5,516.5 910.6,518.1 908.8,520.6 907.5,523.1 909.4,524.4 911.9,525.0 910.0,526.2 907.5,525.6 905.0,526.9 905.6,529.4 902.5,530.0 901.2,527.5 899.4,525.0 901.2,523.8 903.1,525.6 903.8,528.8 905.0,531.9 907.5,535.0 910.0,538.1 911.9,540.0 913.8,543.8"/>
<polyline points="882.5,539.4 887.5,538.8 892.5,537.5 895.6,538.8 898.8,536.2 900.0,538.8"/>
<polyline points="912.8,482.6 914.8,483.6"/>
<polyline points="920.2,485.8 922.2,486.8"/>
<polyline points="922.8,489.5 924.8,490.5"/>
<polyline points="928.4,488.2 930.4,489.2"/>
<polyline points="931.5,483.9 933.5,484.9"/>
<polyline points="924.0,498.2 926.0,499.2"/>
<polyline points="926.5,502.6 928.5,503.6"/>
<polyline points="914.6,510.8 916.6,511.8"/>
<polyline points="892.1,526.4 894.1,527.4"/>
<polyline points="973.9,463.9 974.8,461.8 976.9,461.2 979.0,462.4 981.1,464.8 982.6,467.7 982.4,470.7 980.7,472.6 978.1,472.6 976.0,470.7 974.6,467.7 973.9,463.9"/>
<polyline points="760.1,604.5 761.7,601.4 763.7,598.3 766.8,596.8 769.3,597.8 767.3,594.7 764.7,593.2 768.3,592.4 772.4,592.7 775.0,591.1 777.0,590.1 778.1,591.7 776.0,593.7 774.0,595.2 776.5,594.7 779.6,593.2 783.7,593.2 787.8,593.7 790.3,595.2 791.9,594.2 792.9,595.8 791.4,597.8 789.3,599.3 786.8,600.9 784.7,601.4 787.8,600.4 790.3,598.8 792.4,597.3 794.4,599.3 797.0,600.4 801.1,598.8"/>
<polyline points="760.1,604.5 762.7,604.0 764.7,605.5 766.3,608.1 768.3,610.1 770.9,612.2 772.4,613.2 770.4,615.7 768.3,617.8 766.8,619.3 764.7,620.3"/>
<polyline points="801.1,598.8 796.0,600.4 792.9,602.9 790.3,606.0 788.3,609.6 787.3,612.7 786.8,615.2 788.3,615.7 790.3,613.7 791.9,610.6 793.9,607.5 796.5,605.0 801.1,602.4"/>
<polyline points="801.1,605.0 796.0,608.1 793.4,611.1 791.9,614.2 793.4,614.7 796.0,612.2 801.1,609.1"/>
<polyline points="801.1,612.7 796.0,615.7 793.4,617.8 791.9,619.8 793.9,619.8 797.0,617.8 801.1,615.7"/>
<polyline points="560.0,708.3 561.7,705.8 563.3,705.0 560.8,711.7 562.5,714.2 566.7,712.5 570.0,715.0 572.5,717.5 575.8,715.8 580.0,716.7 583.3,719.2 586.7,716.7 590.0,717.5 593.3,715.8 595.8,713.3 599.2,715.0 602.5,717.5 605.8,717.5 608.3,715.0 610.8,711.7 611.7,708.3 610.0,705.0 606.7,702.5 602.5,701.7 599.2,700.0 597.5,697.5 599.2,695.0 601.7,692.5 604.2,690.0 605.0,686.7"/>
<polyline points="595.8,710.0 598.3,708.3 599.2,710.8 596.7,711.7 595.8,710.0"/>
<polyline points="590.8,698.3 593.3,700.0 595.0,699.2"/>
<polyline points="520.0,695.0 520.8,700.0 522.5,703.3 525.8,705.8 530.0,707.0 535.0,706.7 538.3,705.8 540.8,708.3 543.3,705.0 545.0,701.7 545.8,700.0 546.7,695.0"/>
<polyline points="550.8,695.0 551.7,700.0 555.0,702.5 558.3,705.8 560.8,708.3 561.7,711.7 560.0,715.0 557.5,718.3 554.2,720.8 558.3,720.0 561.7,717.5 564.2,714.2 565.0,710.0 567.5,707.5 570.0,706.7"/>
<polyline points="585.0,642.5 587.0,640.0 590.1,637.9 592.7,639.0 594.7,642.0 592.2,644.1 589.6,645.6 587.0,646.6 585.0,642.5"/>
<polyline points="567.0,670.7 570.6,669.2 574.2,667.6 578.3,666.1 582.4,665.1 586.5,664.9 589.6,666.1 591.6,667.6 594.7,667.3 597.3,668.2 598.3,670.2 600.3,671.7 602.4,673.3 604.4,675.3 605.5,677.9 603.9,679.4 600.9,679.9 598.8,681.5 598.3,684.0 599.3,686.6 601.4,688.6 603.9,690.2 606.0,690.7 603.9,692.7 601.9,692.2 599.8,693.8 598.8,696.3 600.3,697.9 602.4,698.9 600.9,699.9 598.3,699.4 596.8,697.9 597.8,696.3 595.7,698.9 598.8,700.9 602.9,702.0 608.0,703.5 613.2,705.0"/>
<polyline points="571.1,679.4 572.7,681.5 572.2,684.5"/>
<polyline points="581.4,690.2 583.4,689.7"/>
<polyline points="590.6,698.4 593.7,700.4"/>
<polyline points="762.3,559.7 766.2,559.7"/>
</g>
<g stroke="#000" stroke-width="2.1" fill="none">
<line x1="115.85" y1="15" x2="115.85" y2="815.6"/>
<line x1="305.55" y1="15" x2="305.55" y2="815.6"/>
<line x1="495.25" y1="15" x2="495.25" y2="815.6"/>
<line x1="684.95" y1="15" x2="684.95" y2="815.6"/>
<line x1="874.65" y1="15" x2="874.65" y2="815.6"/>
<line x1="1064.35" y1="15" x2="1064.35" y2="815.6"/>
<line x1="14" y1="171.05" x2="1185" y2="171.05"/>
<line x1="21.00" y1="166.25" x2="21.00" y2="175.95"/>
<line x1="210.70" y1="166.25" x2="210.70" y2="175.95"/>
<line x1="400.40" y1="166.25" x2="400.40" y2="175.95"/>
<line x1="590.10" y1="166.25" x2="590.10" y2="175.95"/>
<line x1="779.80" y1="166.25" x2="779.80" y2="175.95"/>
<line x1="969.50" y1="166.25" x2="969.50" y2="175.95"/>
<line x1="1159.20" y1="166.25" x2="1159.20" y2="175.95"/>
<line x1="14" y1="399.85" x2="1185" y2="399.85"/>
<line x1="21.00" y1="395.05" x2="21.00" y2="404.75"/>
<line x1="210.70" y1="395.05" x2="210.70" y2="404.75"/>
<line x1="400.40" y1="395.05" x2="400.40" y2="404.75"/>
<line x1="590.10" y1="395.05" x2="590.10" y2="404.75"/>
<line x1="779.80" y1="395.05" x2="779.80" y2="404.75"/>
<line x1="969.50" y1="395.05" x2="969.50" y2="404.75"/>
<line x1="1159.20" y1="395.05" x2="1159.20" y2="404.75"/>
<line x1="14" y1="620.15" x2="1185" y2="620.15"/>
<line x1="21.00" y1="615.35" x2="21.00" y2="625.05"/>
<line x1="210.70" y1="615.35" x2="210.70" y2="625.05"/>
<line x1="400.40" y1="615.35" x2="400.40" y2="625.05"/>
<line x1="590.10" y1="615.35" x2="590.10" y2="625.05"/>
<line x1="779.80" y1="615.35" x2="779.80" y2="625.05"/>
<line x1="969.50" y1="615.35" x2="969.50" y2="625.05"/>
<line x1="1159.20" y1="615.35" x2="1159.20" y2="625.05"/>
</g>
<g stroke="#000" stroke-width="1.35" fill="#fff">
<rect x="40.67" y="91.50" width="150.13" height="159.1"/>
<rect x="230.37" y="91.50" width="150.13" height="159.1"/>
<rect x="420.07" y="91.50" width="150.13" height="159.1"/>
<rect x="609.77" y="91.50" width="150.13" height="159.1"/>
<rect x="799.47" y="91.50" width="150.13" height="159.1"/>
<rect x="989.17" y="91.50" width="150.13" height="159.1"/>
<rect x="40.67" y="320.30" width="150.13" height="159.1"/>
<rect x="230.37" y="320.30" width="150.13" height="159.1"/>
<rect x="420.07" y="320.30" width="150.13" height="159.1"/>
<rect x="609.77" y="320.30" width="150.13" height="159.1"/>
<rect x="799.47" y="320.30" width="150.13" height="159.1"/>
<rect x="989.17" y="320.30" width="150.13" height="159.1"/>
<rect x="40.67" y="540.60" width="150.13" height="159.1"/>
<rect x="230.37" y="540.60" width="150.13" height="159.1"/>
<rect x="420.07" y="540.60" width="150.13" height="159.1"/>
<rect x="609.77" y="540.60" width="150.13" height="159.1"/>
<rect x="799.47" y="540.60" width="150.13" height="159.1"/>
<rect x="989.17" y="540.60" width="150.13" height="159.1"/>
</g>
<rect x="301.5" y="792.15" width="910" height="50" fill="#fff" stroke="#b4bcbf" stroke-width="1.25"/>
</svg>
<div class="lb" style="left:95.85px;top:1px">24W</div>
<div class="lb" style="left:95.85px;top:816.6px">24W</div>
<div class="lb" style="left:285.55px;top:1px">22W</div>
<div class="lb" style="left:285.55px;top:816.6px;clip-path:inset(0 24.9px 0 0)">22W</div>
<div class="lb" style="left:475.25px;top:1px">20W</div>
<div class="lb" style="left:475.25px;top:816.6px">20W</div>
<div class="lb" style="left:664.95px;top:1px">18W</div>
<div class="lb" style="left:664.95px;top:816.6px">18W</div>
<div class="lb" style="left:854.65px;top:1px">16W</div>
<div class="lb" style="left:854.65px;top:816.6px">16W</div>
<div class="lb" style="left:1044.35px;top:1px">14W</div>
<div class="lb" style="left:1044.35px;top:816.6px">14W</div>
<div class="rl" style="left:-13.8px;top:164.75px">66N</div>
<div class="rl" style="left:1172.25px;top:164.75px">66N</div>
<div class="rl" style="left:-13.8px;top:393.55px">65N</div>
<div class="rl" style="left:1172.25px;top:393.55px">65N</div>
<div class="rl" style="left:-13.8px;top:613.85px">64N</div>
<div class="rl" style="left:1172.25px;top:613.85px">64N</div>
<div class="b" style="left:40px;top:91px">
<i style="left:3.32px;top:5.00px">240</i><i style="left:42.12px;top:5.00px">240</i><i style="left:86.01px;top:5.00px">22</i><i class="n" style="left:121.76px;top:5.00px">-</i><i class="n" style="left:129.02px;top:5.00px">31</i>
<i style="left:3.32px;top:22.00px">180</i><i style="left:42.12px;top:22.00px">250</i><i style="left:86.01px;top:22.00px">21</i><i class="n" style="left:121.76px;top:22.00px">-</i><i class="n" style="left:129.02px;top:22.00px">19</i>
<i style="left:3.32px;top:39.00px">140</i><i style="left:42.12px;top:39.00px">260</i><i style="left:86.01px;top:39.00px">16</i><i class="n" style="left:121.76px;top:39.00px">-</i><i class="n" style="left:129.02px;top:39.00px">10</i>
<i style="left:3.32px;top:56.00px">100</i><i style="left:42.12px;top:56.00px">270</i><i style="left:86.01px;top:56.00px">17</i><i class="n" style="left:121.76px;top:56.00px">-</i><i class="n" style="left:129.02px;top:56.00px">04</i>
<i style="left:3.32px;top:73.00px">063</i><i style="left:42.12px;top:73.00px">270</i><i style="left:86.01px;top:73.00px">23</i><i style="left:128.60px;top:73.00px">00</i>
<i style="left:3.32px;top:90.00px">050</i><i style="left:42.12px;top:90.00px">270</i><i style="left:86.01px;top:90.00px">24</i><i class="p q" style="left:119.59px;top:90.00px">+</i><i class="p" style="left:132.75px;top:90.00px">03</i>
<i style="left:3.32px;top:107.00px">033</i><i style="left:42.12px;top:107.00px">260</i><i style="left:86.01px;top:107.00px">21</i><i class="p q" style="left:119.59px;top:107.00px">+</i><i class="p" style="left:132.75px;top:107.00px">05</i>
<i style="left:3.32px;top:124.00px">025</i><i style="left:42.12px;top:124.00px">240</i><i style="left:86.01px;top:124.00px">20</i><i class="p q" style="left:119.59px;top:124.00px">+</i><i class="p" style="left:132.75px;top:124.00px">05</i>
<i style="left:3.32px;top:141.00px">017</i><i style="left:42.12px;top:141.00px">230</i><i style="left:86.01px;top:141.00px">22</i><i class="p q" style="left:119.59px;top:141.00px">+</i><i class="p" style="left:132.75px;top:141.00px">06</i>
</div>
<div class="b" style="left:229px;top:91px">
<i style="left:4.04px;top:5.00px">240</i><i style="left:42.85px;top:5.00px">260</i><i style="left:86.74px;top:5.00px">20</i><i class="n" style="left:122.49px;top:5.00px">-</i><i class="n" style="left:129.74px;top:5.00px">31</i>
<i style="left:4.04px;top:22.00px">180</i><i style="left:42.85px;top:22.00px">260</i><i style="left:86.74px;top:22.00px">22</i><i class="n" style="left:122.49px;top:22.00px">-</i><i class="n" style="left:129.74px;top:22.00px">19</i>
<i style="left:4.04px;top:39.00px">140</i><i style="left:42.85px;top:39.00px">260</i><i style="left:86.74px;top:39.00px">23</i><i class="n" style="left:122.49px;top:39.00px">-</i><i class="n" style="left:129.74px;top:39.00px">10</i>
<i style="left:4.04px;top:56.00px">100</i><i style="left:42.85px;top:56.00px">270</i><i style="left:86.74px;top:56.00px">16</i><i class="n" style="left:122.49px;top:56.00px">-</i><i class="n" style="left:129.74px;top:56.00px">05</i>
<i style="left:4.04px;top:73.00px">063</i><i style="left:42.85px;top:73.00px">310</i><i style="left:86.74px;top:73.00px">12</i><i class="p q" style="left:120.31px;top:73.00px">+</i><i class="p" style="left:133.47px;top:73.00px">01</i>
<i style="left:4.04px;top:90.00px">050</i><i style="left:42.85px;top:90.00px">290</i><i style="left:86.74px;top:90.00px">19</i><i class="p q" style="left:120.31px;top:90.00px">+</i><i class="p" style="left:133.47px;top:90.00px">04</i>
<i style="left:4.04px;top:107.00px">033</i><i style="left:42.85px;top:107.00px">280</i><i style="left:86.74px;top:107.00px">25</i><i class="p q" style="left:120.31px;top:107.00px">+</i><i class="p" style="left:133.47px;top:107.00px">05</i>
<i style="left:4.04px;top:124.00px">025</i><i style="left:42.85px;top:124.00px">270</i><i style="left:86.74px;top:124.00px">24</i><i class="p q" style="left:120.31px;top:124.00px">+</i><i class="p" style="left:133.47px;top:124.00px">06</i>
<i style="left:4.04px;top:141.00px">017</i><i style="left:42.85px;top:141.00px">260</i><i style="left:86.74px;top:141.00px">22</i><i class="p q" style="left:120.31px;top:141.00px">+</i><i class="p" style="left:133.47px;top:141.00px">05</i>
</div>
<div class="b" style="left:419px;top:91px">
<i style="left:3.73px;top:5.00px">240</i><i style="left:42.54px;top:5.00px">270</i><i style="left:86.42px;top:5.00px">23</i><i class="n" style="left:122.18px;top:5.00px">-</i><i class="n" style="left:129.43px;top:5.00px">32</i>
<i style="left:3.73px;top:22.00px">180</i><i style="left:42.54px;top:22.00px">270</i><i style="left:86.42px;top:22.00px">23</i><i class="n" style="left:122.18px;top:22.00px">-</i><i class="n" style="left:129.43px;top:22.00px">19</i>
<i style="left:3.73px;top:39.00px">140</i><i style="left:42.54px;top:39.00px">280</i><i style="left:86.42px;top:39.00px">24</i><i class="n" style="left:122.18px;top:39.00px">-</i><i class="n" style="left:129.43px;top:39.00px">09</i>
<i style="left:3.73px;top:56.00px">100</i><i style="left:42.54px;top:56.00px">280</i><i style="left:86.42px;top:56.00px">22</i><i class="n" style="left:122.18px;top:56.00px">-</i><i class="n" style="left:129.43px;top:56.00px">04</i>
<i style="left:3.73px;top:73.00px">063</i><i style="left:42.54px;top:73.00px">290</i><i style="left:86.42px;top:73.00px">14</i><i style="left:129.02px;top:73.00px">00</i>
<i style="left:3.73px;top:90.00px">050</i><i style="left:42.54px;top:90.00px">280</i><i style="left:86.42px;top:90.00px">14</i><i class="p q" style="left:120.00px;top:90.00px">+</i><i class="p" style="left:133.16px;top:90.00px">02</i>
<i style="left:3.73px;top:107.00px">033</i><i style="left:42.54px;top:107.00px">260</i><i style="left:86.42px;top:107.00px">14</i><i class="p q" style="left:120.00px;top:107.00px">+</i><i class="p" style="left:133.16px;top:107.00px">03</i>
<i style="left:3.73px;top:124.00px">025</i><i style="left:42.54px;top:124.00px">270</i><i style="left:86.42px;top:124.00px">15</i><i class="p q" style="left:120.00px;top:124.00px">+</i><i class="p" style="left:133.16px;top:124.00px">04</i>
<i style="left:3.73px;top:141.00px">017</i><i style="left:42.54px;top:141.00px">260</i><i style="left:86.42px;top:141.00px">17</i><i class="p q" style="left:120.00px;top:141.00px">+</i><i class="p" style="left:133.16px;top:141.00px">06</i>
</div>
<div class="b" style="left:609px;top:91px">
<i style="left:3.42px;top:5.00px">240</i><i style="left:42.23px;top:5.00px">280</i><i style="left:86.11px;top:5.00px">27</i><i class="n" style="left:121.87px;top:5.00px">-</i><i class="n" style="left:129.12px;top:5.00px">32</i>
<i style="left:3.42px;top:22.00px">180</i><i style="left:42.23px;top:22.00px">280</i><i style="left:86.11px;top:22.00px">27</i><i class="n" style="left:121.87px;top:22.00px">-</i><i class="n" style="left:129.12px;top:22.00px">19</i>
<i style="left:3.42px;top:39.00px">140</i><i style="left:42.23px;top:39.00px">290</i><i style="left:86.11px;top:39.00px">27</i><i class="n" style="left:121.87px;top:39.00px">-</i><i class="n" style="left:129.12px;top:39.00px">09</i>
<i style="left:3.42px;top:56.00px">100</i><i style="left:42.23px;top:56.00px">290</i><i style="left:86.11px;top:56.00px">24</i><i class="n" style="left:121.87px;top:56.00px">-</i><i class="n" style="left:129.12px;top:56.00px">03</i>
<i style="left:3.42px;top:73.00px">063</i><i style="left:42.23px;top:73.00px">300</i><i style="left:86.11px;top:73.00px">21</i><i style="left:128.70px;top:73.00px">00</i>
<i style="left:3.42px;top:90.00px">050</i><i style="left:42.23px;top:90.00px">290</i><i style="left:86.11px;top:90.00px">18</i><i class="p q" style="left:119.69px;top:90.00px">+</i><i class="p" style="left:132.85px;top:90.00px">01</i>
<i style="left:3.42px;top:107.00px">033</i><i style="left:42.23px;top:107.00px">280</i><i style="left:86.11px;top:107.00px">16</i><i class="p q" style="left:119.69px;top:107.00px">+</i><i class="p" style="left:132.85px;top:107.00px">02</i>
<i style="left:3.42px;top:124.00px">025</i><i style="left:42.23px;top:124.00px">270</i><i style="left:86.11px;top:124.00px">14</i><i class="p q" style="left:119.69px;top:124.00px">+</i><i class="p" style="left:132.85px;top:124.00px">03</i>
<i style="left:3.42px;top:141.00px">017</i><i style="left:42.23px;top:141.00px">230</i><i style="left:86.11px;top:141.00px">10</i><i class="p q" style="left:119.69px;top:141.00px">+</i><i class="p" style="left:132.85px;top:141.00px">04</i>
</div>
<div class="b" style="left:798px;top:91px">
<i style="left:4.15px;top:5.00px">240</i><i style="left:42.95px;top:5.00px">280</i><i style="left:86.84px;top:5.00px">34</i><i class="n" style="left:122.59px;top:5.00px">-</i><i class="n" style="left:129.84px;top:5.00px">32</i>
<i style="left:4.15px;top:22.00px">180</i><i style="left:42.95px;top:22.00px">290</i><i style="left:86.84px;top:22.00px">30</i><i class="n" style="left:122.59px;top:22.00px">-</i><i class="n" style="left:129.84px;top:22.00px">19</i>
<i style="left:4.15px;top:39.00px">140</i><i style="left:42.95px;top:39.00px">300</i><i style="left:86.84px;top:39.00px">29</i><i class="n" style="left:122.59px;top:39.00px">-</i><i class="n" style="left:129.84px;top:39.00px">09</i>
<i style="left:4.15px;top:56.00px">100</i><i style="left:42.95px;top:56.00px">300</i><i style="left:86.84px;top:56.00px">28</i><i class="n" style="left:122.59px;top:56.00px">-</i><i class="n" style="left:129.84px;top:56.00px">03</i>
<i style="left:4.15px;top:73.00px">063</i><i style="left:42.95px;top:73.00px">300</i><i style="left:86.84px;top:73.00px">27</i><i class="n" style="left:122.59px;top:73.00px">-</i><i class="n" style="left:129.84px;top:73.00px">01</i>
<i style="left:4.15px;top:90.00px">050</i><i style="left:42.95px;top:90.00px">300</i><i style="left:86.84px;top:90.00px">23</i><i class="p q" style="left:120.41px;top:90.00px">+</i><i class="p" style="left:133.58px;top:90.00px">01</i>
<i style="left:4.15px;top:107.00px">033</i><i style="left:42.95px;top:107.00px">280</i><i style="left:86.84px;top:107.00px">20</i><i class="p q" style="left:120.41px;top:107.00px">+</i><i class="p" style="left:133.58px;top:107.00px">01</i>
<i style="left:4.15px;top:124.00px">025</i><i style="left:42.95px;top:124.00px">280</i><i style="left:86.84px;top:124.00px">17</i><i class="p q" style="left:120.41px;top:124.00px">+</i><i class="p" style="left:133.58px;top:124.00px">02</i>
<i style="left:4.15px;top:141.00px">017</i><i style="left:42.95px;top:141.00px">270</i><i style="left:86.84px;top:141.00px">14</i><i class="p q" style="left:120.41px;top:141.00px">+</i><i class="p" style="left:133.58px;top:141.00px">03</i>
</div>
<div class="b" style="left:988px;top:91px">
<i style="left:3.83px;top:5.00px">240</i><i style="left:42.64px;top:5.00px">300</i><i style="left:86.53px;top:5.00px">42</i><i class="n" style="left:122.28px;top:5.00px">-</i><i class="n" style="left:129.53px;top:5.00px">32</i>
<i style="left:3.83px;top:22.00px">180</i><i style="left:42.64px;top:22.00px">300</i><i style="left:86.53px;top:22.00px">37</i><i class="n" style="left:122.28px;top:22.00px">-</i><i class="n" style="left:129.53px;top:22.00px">18</i>
<i style="left:3.83px;top:39.00px">140</i><i style="left:42.64px;top:39.00px">310</i><i style="left:86.53px;top:39.00px">38</i><i class="n" style="left:122.28px;top:39.00px">-</i><i class="n" style="left:129.53px;top:39.00px">09</i>
<i style="left:3.83px;top:56.00px">100</i><i style="left:42.64px;top:56.00px">300</i><i style="left:86.53px;top:56.00px">33</i><i class="n" style="left:122.28px;top:56.00px">-</i><i class="n" style="left:129.53px;top:56.00px">04</i>
<i style="left:3.83px;top:73.00px">063</i><i style="left:42.64px;top:73.00px">310</i><i style="left:86.53px;top:73.00px">30</i><i class="n" style="left:122.28px;top:73.00px">-</i><i class="n" style="left:129.53px;top:73.00px">01</i>
<i style="left:3.83px;top:90.00px">050</i><i style="left:42.64px;top:90.00px">300</i><i style="left:86.53px;top:90.00px">26</i><i style="left:129.12px;top:90.00px">00</i>
<i style="left:3.83px;top:107.00px">033</i><i style="left:42.64px;top:107.00px">290</i><i style="left:86.53px;top:107.00px">22</i><i class="n" style="left:122.28px;top:107.00px">-</i><i class="n" style="left:129.53px;top:107.00px">01</i>
<i style="left:3.83px;top:124.00px">025</i><i style="left:42.64px;top:124.00px">290</i><i style="left:86.53px;top:124.00px">17</i><i style="left:129.12px;top:124.00px">00</i>
<i style="left:3.83px;top:141.00px">017</i><i style="left:42.64px;top:141.00px">290</i><i style="left:86.53px;top:141.00px">13</i><i class="p q" style="left:120.10px;top:141.00px">+</i><i class="p" style="left:133.26px;top:141.00px">01</i>
</div>
<div class="b" style="left:40px;top:320px">
<i style="left:3.32px;top:5.00px">240</i><i style="left:42.12px;top:5.00px">210</i><i style="left:86.01px;top:5.00px">22</i><i class="n" style="left:121.76px;top:5.00px">-</i><i class="n" style="left:129.02px;top:5.00px">32</i>
<i style="left:3.32px;top:22.00px">180</i><i style="left:42.12px;top:22.00px">220</i><i style="left:86.01px;top:22.00px">18</i><i class="n" style="left:121.76px;top:22.00px">-</i><i class="n" style="left:129.02px;top:22.00px">20</i>
<i style="left:3.32px;top:39.00px">140</i><i style="left:42.12px;top:39.00px">250</i><i style="left:86.01px;top:39.00px">12</i><i class="n" style="left:121.76px;top:39.00px">-</i><i class="n" style="left:129.02px;top:39.00px">10</i>
<i style="left:3.32px;top:56.00px">100</i><i style="left:42.12px;top:56.00px">250</i><i style="left:86.01px;top:56.00px">10</i><i class="n" style="left:121.76px;top:56.00px">-</i><i class="n" style="left:129.02px;top:56.00px">04</i>
<i style="left:3.32px;top:73.00px">063</i><i style="left:42.12px;top:73.00px">270</i><i style="left:86.01px;top:73.00px">13</i><i class="p q" style="left:119.59px;top:73.00px">+</i><i class="p" style="left:132.75px;top:73.00px">01</i>
<i style="left:3.32px;top:90.00px">050</i><i style="left:42.12px;top:90.00px">270</i><i style="left:86.01px;top:90.00px">11</i><i class="p q" style="left:119.59px;top:90.00px">+</i><i class="p" style="left:132.75px;top:90.00px">03</i>
<i style="left:3.32px;top:107.00px">033</i><i style="left:42.12px;top:107.00px">260</i><i style="left:86.01px;top:107.00px">08</i><i class="p q" style="left:119.59px;top:107.00px">+</i><i class="p" style="left:132.75px;top:107.00px">05</i>
<i style="left:3.32px;top:124.00px">025</i><i style="left:42.12px;top:124.00px">240</i><i style="left:86.01px;top:124.00px">11</i><i class="p q" style="left:119.59px;top:124.00px">+</i><i class="p" style="left:132.75px;top:124.00px">06</i>
<i style="left:3.32px;top:141.00px">017</i><i style="left:42.12px;top:141.00px">240</i><i style="left:86.01px;top:141.00px">15</i><i class="p q" style="left:119.59px;top:141.00px">+</i><i class="p" style="left:132.75px;top:141.00px">06</i>
</div>
<div class="b" style="left:229px;top:320px">
<i style="left:4.04px;top:5.00px">240</i><i style="left:42.85px;top:5.00px">240</i><i style="left:86.74px;top:5.00px">20</i><i class="n" style="left:122.49px;top:5.00px">-</i><i class="n" style="left:129.74px;top:5.00px">32</i>
<i style="left:4.04px;top:22.00px">180</i><i style="left:42.85px;top:22.00px">250</i><i style="left:86.74px;top:22.00px">18</i><i class="n" style="left:122.49px;top:22.00px">-</i><i class="n" style="left:129.74px;top:22.00px">19</i>
<i style="left:4.04px;top:39.00px">140</i><i style="left:42.85px;top:39.00px">260</i><i style="left:86.74px;top:39.00px">17</i><i class="n" style="left:122.49px;top:39.00px">-</i><i class="n" style="left:129.74px;top:39.00px">09</i>
<i style="left:4.04px;top:56.00px">100</i><i style="left:42.85px;top:56.00px">270</i><i style="left:86.74px;top:56.00px">13</i><i class="n" style="left:122.49px;top:56.00px">-</i><i class="n" style="left:129.74px;top:56.00px">04</i>
<i style="left:4.04px;top:73.00px">063</i><i style="left:42.85px;top:73.00px">290</i><i style="left:86.74px;top:73.00px">15</i><i class="p q" style="left:120.31px;top:73.00px">+</i><i class="p" style="left:133.47px;top:73.00px">01</i>
<i style="left:4.04px;top:90.00px">050</i><i style="left:42.85px;top:90.00px">280</i><i style="left:86.74px;top:90.00px">15</i><i class="p q" style="left:120.31px;top:90.00px">+</i><i class="p" style="left:133.47px;top:90.00px">03</i>
<i style="left:4.04px;top:107.00px">033</i><i style="left:42.85px;top:107.00px">280</i><i style="left:86.74px;top:107.00px">12</i><i class="p q" style="left:120.31px;top:107.00px">+</i><i class="p" style="left:133.47px;top:107.00px">04</i>
<i style="left:4.04px;top:124.00px">025</i><i style="left:42.85px;top:124.00px">270</i><i style="left:86.74px;top:124.00px">07</i><i class="p q" style="left:120.31px;top:124.00px">+</i><i class="p" style="left:133.47px;top:124.00px">05</i>
<i style="left:4.04px;top:141.00px">017</i><i style="left:42.85px;top:141.00px">280</i><i style="left:86.74px;top:141.00px">05</i><i class="p q" style="left:120.31px;top:141.00px">+</i><i class="p" style="left:133.47px;top:141.00px">05</i>
</div>
<div class="b" style="left:419px;top:320px">
<i style="left:3.73px;top:5.00px">240</i><i style="left:42.54px;top:5.00px">270</i><i style="left:86.42px;top:5.00px">22</i><i class="n" style="left:122.18px;top:5.00px">-</i><i class="n" style="left:129.43px;top:5.00px">32</i>
<i style="left:3.73px;top:22.00px">180</i><i style="left:42.54px;top:22.00px">280</i><i style="left:86.42px;top:22.00px">18</i><i class="n" style="left:122.18px;top:22.00px">-</i><i class="n" style="left:129.43px;top:22.00px">19</i>
<i style="left:3.73px;top:39.00px">140</i><i style="left:42.54px;top:39.00px">270</i><i style="left:86.42px;top:39.00px">16</i><i class="n" style="left:122.18px;top:39.00px">-</i><i class="n" style="left:129.43px;top:39.00px">09</i>
<i style="left:3.73px;top:56.00px">100</i><i style="left:42.54px;top:56.00px">280</i><i style="left:86.42px;top:56.00px">17</i><i class="n" style="left:122.18px;top:56.00px">-</i><i class="n" style="left:129.43px;top:56.00px">03</i>
<i style="left:3.73px;top:73.00px">063</i><i style="left:42.54px;top:73.00px">290</i><i style="left:86.42px;top:73.00px">16</i><i style="left:129.02px;top:73.00px">00</i>
<i style="left:3.73px;top:90.00px">050</i><i style="left:42.54px;top:90.00px">280</i><i style="left:86.42px;top:90.00px">16</i><i class="p q" style="left:120.00px;top:90.00px">+</i><i class="p" style="left:133.16px;top:90.00px">02</i>
<i style="left:3.73px;top:107.00px">033</i><i style="left:42.54px;top:107.00px">250</i><i style="left:86.42px;top:107.00px">15</i><i class="p q" style="left:120.00px;top:107.00px">+</i><i class="p" style="left:133.16px;top:107.00px">03</i>
<i style="left:3.73px;top:124.00px">025</i><i style="left:42.54px;top:124.00px">230</i><i style="left:86.42px;top:124.00px">14</i><i class="p q" style="left:120.00px;top:124.00px">+</i><i class="p" style="left:133.16px;top:124.00px">02</i>
<i style="left:3.73px;top:141.00px">017</i><i style="left:42.54px;top:141.00px">200</i><i style="left:86.42px;top:141.00px">06</i><i class="p q" style="left:120.00px;top:141.00px">+</i><i class="p" style="left:133.16px;top:141.00px">02</i>
</div>
<div class="b" style="left:609px;top:320px">
<i style="left:3.42px;top:5.00px">240</i><i style="left:42.23px;top:5.00px">260</i><i style="left:86.11px;top:5.00px">20</i><i class="n" style="left:121.87px;top:5.00px">-</i><i class="n" style="left:129.12px;top:5.00px">31</i>
<i style="left:3.42px;top:22.00px">180</i><i style="left:42.23px;top:22.00px">290</i><i style="left:86.11px;top:22.00px">20</i><i class="n" style="left:121.87px;top:22.00px">-</i><i class="n" style="left:129.12px;top:22.00px">19</i>
<i style="left:3.42px;top:39.00px">140</i><i style="left:42.23px;top:39.00px">290</i><i style="left:86.11px;top:39.00px">19</i><i class="n" style="left:121.87px;top:39.00px">-</i><i class="n" style="left:129.12px;top:39.00px">09</i>
<i style="left:3.42px;top:56.00px">100</i><i style="left:42.23px;top:56.00px">290</i><i style="left:86.11px;top:56.00px">18</i><i class="n" style="left:121.87px;top:56.00px">-</i><i class="n" style="left:129.12px;top:56.00px">03</i>
<i style="left:3.42px;top:73.00px">063</i><i style="left:42.23px;top:73.00px">310</i><i style="left:86.11px;top:73.00px">17</i><i style="left:128.70px;top:73.00px">00</i>
<i style="left:3.42px;top:90.00px">050</i><i style="left:42.23px;top:90.00px">300</i><i style="left:86.11px;top:90.00px">17</i><i class="p q" style="left:119.69px;top:90.00px">+</i><i class="p" style="left:132.85px;top:90.00px">02</i>
<i style="left:3.42px;top:107.00px">033</i><i style="left:42.23px;top:107.00px">270</i><i style="left:86.11px;top:107.00px">16</i><i class="p q" style="left:119.69px;top:107.00px">+</i><i class="p" style="left:132.85px;top:107.00px">02</i>
<i style="left:3.42px;top:124.00px">025</i><i style="left:42.23px;top:124.00px">240</i><i style="left:86.11px;top:124.00px">13</i><i style="left:128.70px;top:124.00px">00</i>
<i style="left:3.42px;top:141.00px">017</i><i style="left:42.23px;top:141.00px">240</i><i style="left:86.11px;top:141.00px">11</i><i class="p q" style="left:119.69px;top:141.00px">+</i><i class="p" style="left:132.85px;top:141.00px">04</i>
</div>
<div class="b" style="left:798px;top:320px">
<i style="left:4.15px;top:5.00px">240</i><i style="left:42.95px;top:5.00px">270</i><i style="left:86.84px;top:5.00px">25</i><i class="n" style="left:122.59px;top:5.00px">-</i><i class="n" style="left:129.84px;top:5.00px">31</i>
<i style="left:4.15px;top:22.00px">180</i><i style="left:42.95px;top:22.00px">290</i><i style="left:86.84px;top:22.00px">25</i><i class="n" style="left:122.59px;top:22.00px">-</i><i class="n" style="left:129.84px;top:22.00px">18</i>
<i style="left:4.15px;top:39.00px">140</i><i style="left:42.95px;top:39.00px">290</i><i style="left:86.84px;top:39.00px">23</i><i class="n" style="left:122.59px;top:39.00px">-</i><i class="n" style="left:129.84px;top:39.00px">09</i>
<i style="left:4.15px;top:56.00px">100</i><i style="left:42.95px;top:56.00px">300</i><i style="left:86.84px;top:56.00px">21</i><i class="n" style="left:122.59px;top:56.00px">-</i><i class="n" style="left:129.84px;top:56.00px">03</i>
<i style="left:4.15px;top:73.00px">063</i><i style="left:42.95px;top:73.00px">310</i><i style="left:86.84px;top:73.00px">16</i><i style="left:129.43px;top:73.00px">00</i>
<i style="left:4.15px;top:90.00px">050</i><i style="left:42.95px;top:90.00px">300</i><i style="left:86.84px;top:90.00px">09</i><i class="p q" style="left:120.41px;top:90.00px">+</i><i class="p" style="left:133.58px;top:90.00px">01</i>
<i style="left:4.15px;top:107.00px">033</i><i style="left:42.95px;top:107.00px">300</i><i style="left:86.84px;top:107.00px">05</i><i class="p q" style="left:120.41px;top:107.00px">+</i><i class="p" style="left:133.58px;top:107.00px">03</i>
<i style="left:4.15px;top:124.00px">025</i><i style="left:42.95px;top:124.00px">330</i><i style="left:86.84px;top:124.00px">05</i><i class="p q" style="left:120.41px;top:124.00px">+</i><i class="p" style="left:133.58px;top:124.00px">04</i>
<i style="left:4.15px;top:141.00px">017</i><i style="left:42.95px;top:141.00px">260</i><i style="left:86.84px;top:141.00px">05</i><i class="p q" style="left:120.41px;top:141.00px">+</i><i class="p" style="left:133.58px;top:141.00px">04</i>
</div>
<div class="b" style="left:988px;top:320px">
<i style="left:3.83px;top:5.00px">240</i><i style="left:42.64px;top:5.00px">290</i><i style="left:86.53px;top:5.00px">31</i><i class="n" style="left:122.28px;top:5.00px">-</i><i class="n" style="left:129.53px;top:5.00px">31</i>
<i style="left:3.83px;top:22.00px">180</i><i style="left:42.64px;top:22.00px">300</i><i style="left:86.53px;top:22.00px">29</i><i class="n" style="left:122.28px;top:22.00px">-</i><i class="n" style="left:129.53px;top:22.00px">18</i>
<i style="left:3.83px;top:39.00px">140</i><i style="left:42.64px;top:39.00px">310</i><i style="left:86.53px;top:39.00px">30</i><i class="n" style="left:122.28px;top:39.00px">-</i><i class="n" style="left:129.53px;top:39.00px">09</i>
<i style="left:3.83px;top:56.00px">100</i><i style="left:42.64px;top:56.00px">310</i><i style="left:86.53px;top:56.00px">27</i><i class="n" style="left:122.28px;top:56.00px">-</i><i class="n" style="left:129.53px;top:56.00px">04</i>
<i style="left:3.83px;top:73.00px">063</i><i style="left:42.64px;top:73.00px">310</i><i style="left:86.53px;top:73.00px">20</i><i class="n" style="left:122.28px;top:73.00px">-</i><i class="n" style="left:129.53px;top:73.00px">01</i>
<i style="left:3.83px;top:90.00px">050</i><i style="left:42.64px;top:90.00px">310</i><i style="left:86.53px;top:90.00px">14</i><i class="p q" style="left:120.10px;top:90.00px">+</i><i class="p" style="left:133.26px;top:90.00px">01</i>
<i style="left:3.83px;top:107.00px">033</i><i style="left:42.64px;top:107.00px">290</i><i style="left:86.53px;top:107.00px">09</i><i class="p q" style="left:120.10px;top:107.00px">+</i><i class="p" style="left:133.26px;top:107.00px">03</i>
<i style="left:3.83px;top:124.00px">025</i><i style="left:42.64px;top:124.00px">270</i><i style="left:86.53px;top:124.00px">08</i><i class="p q" style="left:120.10px;top:124.00px">+</i><i class="p" style="left:133.26px;top:124.00px">04</i>
<i style="left:3.83px;top:141.00px">017</i><i style="left:42.64px;top:141.00px">270</i><i style="left:86.53px;top:141.00px">08</i><i class="p q" style="left:120.10px;top:141.00px">+</i><i class="p" style="left:133.26px;top:141.00px">05</i>
</div>
<div class="b" style="left:40px;top:540px">
<i style="left:3.32px;top:5.00px">240</i><i style="left:42.12px;top:5.00px">240</i><i style="left:86.01px;top:5.00px">12</i><i class="n" style="left:121.76px;top:5.00px">-</i><i class="n" style="left:129.02px;top:5.00px">32</i>
<i style="left:3.32px;top:22.00px">180</i><i style="left:42.12px;top:22.00px">250</i><i style="left:86.01px;top:22.00px">14</i><i class="n" style="left:121.76px;top:22.00px">-</i><i class="n" style="left:129.02px;top:22.00px">19</i>
<i style="left:3.32px;top:39.00px">140</i><i style="left:42.12px;top:39.00px">250</i><i style="left:86.01px;top:39.00px">13</i><i class="n" style="left:121.76px;top:39.00px">-</i><i class="n" style="left:129.02px;top:39.00px">10</i>
<i style="left:3.32px;top:56.00px">100</i><i style="left:42.12px;top:56.00px">230</i><i style="left:86.01px;top:56.00px">08</i><i class="n" style="left:121.76px;top:56.00px">-</i><i class="n" style="left:129.02px;top:56.00px">04</i>
<i style="left:3.32px;top:73.00px">063</i><i style="left:42.12px;top:73.00px">220</i><i style="left:86.01px;top:73.00px">05</i><i class="p q" style="left:119.59px;top:73.00px">+</i><i class="p" style="left:132.75px;top:73.00px">01</i>
<i style="left:3.32px;top:90.00px">050</i><i style="left:42.12px;top:90.00px">190</i><i style="left:86.01px;top:90.00px">04</i><i class="p q" style="left:119.59px;top:90.00px">+</i><i class="p" style="left:132.75px;top:90.00px">03</i>
<i style="left:3.32px;top:107.00px">033</i><i style="left:42.12px;top:107.00px">200</i><i style="left:86.01px;top:107.00px">06</i><i class="p q" style="left:119.59px;top:107.00px">+</i><i class="p" style="left:132.75px;top:107.00px">05</i>
<i style="left:3.32px;top:124.00px">025</i><i style="left:42.12px;top:124.00px">200</i><i style="left:86.01px;top:124.00px">07</i><i class="p q" style="left:119.59px;top:124.00px">+</i><i class="p" style="left:132.75px;top:124.00px">05</i>
<i style="left:3.32px;top:141.00px">017</i><i style="left:42.12px;top:141.00px">210</i><i style="left:86.01px;top:141.00px">08</i><i class="p q" style="left:119.59px;top:141.00px">+</i><i class="p" style="left:132.75px;top:141.00px">05</i>
</div>
<div class="b" style="left:229px;top:540px">
<i style="left:4.04px;top:5.00px">240</i><i style="left:42.85px;top:5.00px">210</i><i style="left:86.74px;top:5.00px">16</i><i class="n" style="left:122.49px;top:5.00px">-</i><i class="n" style="left:129.74px;top:5.00px">32</i>
<i style="left:4.04px;top:22.00px">180</i><i style="left:42.85px;top:22.00px">230</i><i style="left:86.74px;top:22.00px">14</i><i class="n" style="left:122.49px;top:22.00px">-</i><i class="n" style="left:129.74px;top:22.00px">19</i>
<i style="left:4.04px;top:39.00px">140</i><i style="left:42.85px;top:39.00px">250</i><i style="left:86.74px;top:39.00px">10</i><i class="n" style="left:122.49px;top:39.00px">-</i><i class="n" style="left:129.74px;top:39.00px">10</i>
<i style="left:4.04px;top:56.00px">100</i><i style="left:42.85px;top:56.00px">260</i><i style="left:86.74px;top:56.00px">09</i><i class="n" style="left:122.49px;top:56.00px">-</i><i class="n" style="left:129.74px;top:56.00px">04</i>
<i style="left:4.04px;top:73.00px">063</i><i style="left:42.85px;top:73.00px">270</i><i style="left:86.74px;top:73.00px">07</i><i class="p q" style="left:120.31px;top:73.00px">+</i><i class="p" style="left:133.47px;top:73.00px">01</i>
<i style="left:4.04px;top:90.00px">050</i><i style="left:42.85px;top:90.00px">280</i><i style="left:86.74px;top:90.00px">06</i><i class="p q" style="left:120.31px;top:90.00px">+</i><i class="p" style="left:133.47px;top:90.00px">03</i>
<i style="left:4.04px;top:107.00px">033</i><i style="left:42.85px;top:107.00px">260</i><i style="left:86.74px;top:107.00px">05</i><i class="p q" style="left:120.31px;top:107.00px">+</i><i class="p" style="left:133.47px;top:107.00px">05</i>
<i style="left:4.04px;top:124.00px">025</i><i style="left:42.85px;top:124.00px">250</i><i style="left:86.74px;top:124.00px">06</i><i class="p q" style="left:120.31px;top:124.00px">+</i><i class="p" style="left:133.47px;top:124.00px">05</i>
<i style="left:4.04px;top:141.00px">017</i><i style="left:42.85px;top:141.00px">250</i><i style="left:86.74px;top:141.00px">05</i><i class="p q" style="left:120.31px;top:141.00px">+</i><i class="p" style="left:133.47px;top:141.00px">03</i>
</div>
<div class="b" style="left:419px;top:540px">
<i style="left:3.73px;top:5.00px">240</i><i style="left:42.54px;top:5.00px">240</i><i style="left:86.42px;top:5.00px">13</i><i class="n" style="left:122.18px;top:5.00px">-</i><i class="n" style="left:129.43px;top:5.00px">32</i>
<i style="left:3.73px;top:22.00px">180</i><i style="left:42.54px;top:22.00px">270</i><i style="left:86.42px;top:22.00px">13</i><i class="n" style="left:122.18px;top:22.00px">-</i><i class="n" style="left:129.43px;top:22.00px">19</i>
<i style="left:3.73px;top:39.00px">140</i><i style="left:42.54px;top:39.00px">280</i><i style="left:86.42px;top:39.00px">11</i><i class="n" style="left:122.18px;top:39.00px">-</i><i class="n" style="left:129.43px;top:39.00px">09</i>
<i style="left:3.73px;top:56.00px">100</i><i style="left:42.54px;top:56.00px">270</i><i style="left:86.42px;top:56.00px">12</i><i class="n" style="left:122.18px;top:56.00px">-</i><i class="n" style="left:129.43px;top:56.00px">04</i>
<i style="left:3.73px;top:73.00px">063</i><i style="left:42.54px;top:73.00px">280</i><i style="left:86.42px;top:73.00px">10</i><i class="p q" style="left:120.00px;top:73.00px">+</i><i class="p" style="left:133.16px;top:73.00px">01</i>
<i style="left:3.73px;top:90.00px">050</i><i style="left:42.54px;top:90.00px">300</i><i style="left:86.42px;top:90.00px">08</i><i class="p q" style="left:120.00px;top:90.00px">+</i><i class="p" style="left:133.16px;top:90.00px">03</i>
<i style="left:3.73px;top:107.00px">033</i><i style="left:42.54px;top:107.00px">290</i><i style="left:86.42px;top:107.00px">06</i><i class="p q" style="left:120.00px;top:107.00px">+</i><i class="p" style="left:133.16px;top:107.00px">05</i>
<i style="left:3.73px;top:124.00px">025</i><i style="left:42.54px;top:124.00px">290</i><i style="left:86.42px;top:124.00px">05</i><i class="p q" style="left:120.00px;top:124.00px">+</i><i class="p" style="left:133.16px;top:124.00px">05</i>
<i style="left:3.73px;top:141.00px">017</i><i style="left:42.54px;top:141.00px">300</i><i style="left:86.42px;top:141.00px">04</i><i class="p q" style="left:120.00px;top:141.00px">+</i><i class="p" style="left:133.16px;top:141.00px">04</i>
</div>
<div class="b" style="left:609px;top:540px">
<i style="left:3.42px;top:5.00px">240</i><i style="left:42.23px;top:5.00px">260</i><i style="left:86.11px;top:5.00px">14</i><i class="n" style="left:121.87px;top:5.00px">-</i><i class="n" style="left:129.12px;top:5.00px">31</i>
<i style="left:3.42px;top:22.00px">180</i><i style="left:42.23px;top:22.00px">270</i><i style="left:86.11px;top:22.00px">15</i><i class="n" style="left:121.87px;top:22.00px">-</i><i class="n" style="left:129.12px;top:22.00px">18</i>
<i style="left:3.42px;top:39.00px">140</i><i style="left:42.23px;top:39.00px">280</i><i style="left:86.11px;top:39.00px">12</i><i class="n" style="left:121.87px;top:39.00px">-</i><i class="n" style="left:129.12px;top:39.00px">09</i>
<i style="left:3.42px;top:56.00px">100</i><i style="left:42.23px;top:56.00px">300</i><i style="left:86.11px;top:56.00px">13</i><i class="n" style="left:121.87px;top:56.00px">-</i><i class="n" style="left:129.12px;top:56.00px">03</i>
<i style="left:3.42px;top:73.00px">063</i><i style="left:42.23px;top:73.00px">300</i><i style="left:86.11px;top:73.00px">15</i><i class="p q" style="left:119.69px;top:73.00px">+</i><i class="p" style="left:132.85px;top:73.00px">01</i>
<i style="left:3.42px;top:90.00px">050</i><i style="left:42.23px;top:90.00px">300</i><i style="left:86.11px;top:90.00px">13</i><i class="p q" style="left:119.69px;top:90.00px">+</i><i class="p" style="left:132.85px;top:90.00px">03</i>
<i style="left:3.42px;top:107.00px">033</i><i style="left:42.23px;top:107.00px">310</i><i style="left:86.11px;top:107.00px">07</i><i class="p q" style="left:119.69px;top:107.00px">+</i><i class="p" style="left:132.85px;top:107.00px">04</i>
<i style="left:3.42px;top:124.00px">025</i><i style="left:42.23px;top:124.00px">330</i><i style="left:86.11px;top:124.00px">03</i><i class="p q" style="left:119.69px;top:124.00px">+</i><i class="p" style="left:132.85px;top:124.00px">04</i>
<i style="left:3.42px;top:141.00px">017</i><i style="left:42.23px;top:141.00px">280</i><i style="left:86.11px;top:141.00px">02</i><i class="p q" style="left:119.69px;top:141.00px">+</i><i class="p" style="left:132.85px;top:141.00px">04</i>
</div>
<div class="b" style="left:798px;top:540px">
<i style="left:4.15px;top:5.00px">240</i><i style="left:42.95px;top:5.00px">260</i><i style="left:86.84px;top:5.00px">19</i><i class="n" style="left:122.59px;top:5.00px">-</i><i class="n" style="left:129.84px;top:5.00px">31</i>
<i style="left:4.15px;top:22.00px">180</i><i style="left:42.95px;top:22.00px">270</i><i style="left:86.84px;top:22.00px">17</i><i class="n" style="left:122.59px;top:22.00px">-</i><i class="n" style="left:129.84px;top:22.00px">18</i>
<i style="left:4.15px;top:39.00px">140</i><i style="left:42.95px;top:39.00px">290</i><i style="left:86.84px;top:39.00px">17</i><i class="n" style="left:122.59px;top:39.00px">-</i><i class="n" style="left:129.84px;top:39.00px">09</i>
<i style="left:4.15px;top:56.00px">100</i><i style="left:42.95px;top:56.00px">310</i><i style="left:86.84px;top:56.00px">15</i><i class="n" style="left:122.59px;top:56.00px">-</i><i class="n" style="left:129.84px;top:56.00px">02</i>
<i style="left:4.15px;top:73.00px">063</i><i style="left:42.95px;top:73.00px">310</i><i style="left:86.84px;top:73.00px">14</i><i class="p q" style="left:120.41px;top:73.00px">+</i><i class="p" style="left:133.58px;top:73.00px">01</i>
<i style="left:4.15px;top:90.00px">050</i><i style="left:42.95px;top:90.00px">310</i><i style="left:86.84px;top:90.00px">09</i><i class="p q" style="left:120.41px;top:90.00px">+</i><i class="p" style="left:133.58px;top:90.00px">03</i>
<i style="left:4.15px;top:107.00px">033</i><i style="left:42.95px;top:107.00px">250</i><i style="left:86.84px;top:107.00px">06</i><i class="p q" style="left:120.41px;top:107.00px">+</i><i class="p" style="left:133.58px;top:107.00px">04</i>
<i style="left:4.15px;top:124.00px">025</i><i style="left:42.95px;top:124.00px">320</i><i style="left:86.84px;top:124.00px">03</i><i class="p q" style="left:120.41px;top:124.00px">+</i><i class="p" style="left:133.58px;top:124.00px">05</i>
<i style="left:4.15px;top:141.00px">017</i><i style="left:42.95px;top:141.00px">020</i><i style="left:86.84px;top:141.00px">03</i><i class="p q" style="left:120.41px;top:141.00px">+</i><i class="p" style="left:133.58px;top:141.00px">04</i>
</div>
<div class="b" style="left:988px;top:540px">
<i style="left:3.83px;top:5.00px">240</i><i style="left:42.64px;top:5.00px">280</i><i style="left:86.53px;top:5.00px">23</i><i class="n" style="left:122.28px;top:5.00px">-</i><i class="n" style="left:129.53px;top:5.00px">32</i>
<i style="left:3.83px;top:22.00px">180</i><i style="left:42.64px;top:22.00px">300</i><i style="left:86.53px;top:22.00px">22</i><i class="n" style="left:122.28px;top:22.00px">-</i><i class="n" style="left:129.53px;top:22.00px">18</i>
<i style="left:3.83px;top:39.00px">140</i><i style="left:42.64px;top:39.00px">300</i><i style="left:86.53px;top:39.00px">20</i><i class="n" style="left:122.28px;top:39.00px">-</i><i class="n" style="left:129.53px;top:39.00px">09</i>
<i style="left:3.83px;top:56.00px">100</i><i style="left:42.64px;top:56.00px">310</i><i style="left:86.53px;top:56.00px">20</i><i class="n" style="left:122.28px;top:56.00px">-</i><i class="n" style="left:129.53px;top:56.00px">02</i>
<i style="left:3.83px;top:73.00px">063</i><i style="left:42.64px;top:73.00px">320</i><i style="left:86.53px;top:73.00px">15</i><i class="p q" style="left:120.10px;top:73.00px">+</i><i class="p" style="left:133.26px;top:73.00px">01</i>
<i style="left:3.83px;top:90.00px">050</i><i style="left:42.64px;top:90.00px">320</i><i style="left:86.53px;top:90.00px">10</i><i class="p q" style="left:120.10px;top:90.00px">+</i><i class="p" style="left:133.26px;top:90.00px">02</i>
<i style="left:3.83px;top:107.00px">033</i><i style="left:42.64px;top:107.00px">250</i><i style="left:86.53px;top:107.00px">06</i><i class="p q" style="left:120.10px;top:107.00px">+</i><i class="p" style="left:133.26px;top:107.00px">02</i>
<i style="left:3.83px;top:124.00px">025</i><i style="left:42.64px;top:124.00px">210</i><i style="left:86.53px;top:124.00px">08</i><i class="p q" style="left:120.10px;top:124.00px">+</i><i class="p" style="left:133.26px;top:124.00px">03</i>
<i style="left:3.83px;top:141.00px">017</i><i style="left:42.64px;top:141.00px">190</i><i style="left:86.53px;top:141.00px">10</i><i class="p q" style="left:120.10px;top:141.00px">+</i><i class="p" style="left:133.26px;top:141.00px">04</i>
</div>
<div id="cap">
<span style="left:1.25px;transform:translateY(-0.55px) scaleX(0.9757)">Spot</span>
<span style="left:49.91px;transform:translateY(-0.55px) scaleX(0.9930)">Chart:</span>
<span style="left:114.16px;transform:translateY(-0.55px) scaleX(0.8554)">FL</span>
<span style="left:141.42px;transform:translateY(-0.55px) scaleX(1.0108)">Dir</span>
<span style="left:175.61px;transform:translateY(-0.55px) scaleX(0.8897)">KT</span>
<span style="left:205.70px;transform:translateY(-0.55px) scaleX(1.0176)">°C</span>
<span class="bd" style="left:235.73px;transform:translateY(0.45px) scaleX(0.9086)">DMI/IGB:</span>
<span style="left:328.29px;transform:translateY(-0.55px) scaleX(1.1968)">IT:</span>
<span style="left:361.50px;transform:translateY(-0.55px) scaleX(0.9596)">Lau.</span>
<span style="left:407.92px;transform:translateY(-0.55px) scaleX(1.0037)">20.</span>
<span style="left:443.81px;transform:translateY(-0.55px) scaleX(0.9229)">Apr.</span>
<span style="left:485.46px;transform:translateY(-0.55px) scaleX(0.9641)">2024</span>
<span style="left:537.89px;transform:translateY(-0.55px) scaleX(0.9399)">00Z</span>
<span class="bd" style="left:578.74px;transform:translateY(0.45px) scaleX(0.8968)">VT:</span>
<span class="bd" style="left:615.78px;transform:translateY(0.45px) scaleX(0.8697)">Mán.</span>
<span class="bd" style="left:667.96px;transform:translateY(0.45px) scaleX(0.9053)">22.04.2024</span>
<span class="bd" style="left:779.13px;transform:translateY(0.45px) scaleX(0.8733)">12Z</span>
<span style="left:819.02px;transform:translateY(-0.55px) scaleX(1.0889)">(+60</span>
<span style="left:872.01px;transform:translateY(-0.55px) scaleX(1.0897)">h)</span>
</div>
<svg width="1200" height="830" viewBox="0 0 1200 830" style="pointer-events:none"><rect x="0" y="0" width="1200" height="830" fill="none" stroke="#000" stroke-width="2.7"/></svg>
<div id="mb"></div>
</body></html>
